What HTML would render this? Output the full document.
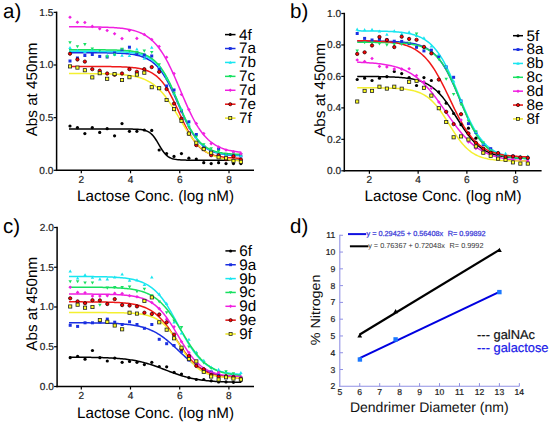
<!DOCTYPE html>
<html><head><meta charset="utf-8"><style>
html,body{margin:0;padding:0;background:#fff;}
svg{display:block;font-family:"Liberation Sans", sans-serif;text-rendering:geometricPrecision;}
</style></head><body>
<svg width="550" height="423" viewBox="0 0 550 423">
<rect width="550" height="423" fill="#fff"/>
<line x1="56.60" y1="11.60" x2="56.60" y2="171.05" stroke="#000" stroke-width="1.5" />
<line x1="55.85" y1="170.30" x2="254.00" y2="170.30" stroke="#000" stroke-width="1.5" />
<line x1="53.60" y1="170.30" x2="56.60" y2="170.30" stroke="#000" stroke-width="1.2" />
<text x="53.40" y="173.60" font-size="10.1" text-anchor="end" fill="#222" stroke="#222" stroke-width="0.2">0.0</text>
<line x1="53.60" y1="117.65" x2="56.60" y2="117.65" stroke="#000" stroke-width="1.2" />
<text x="53.40" y="120.95" font-size="10.1" text-anchor="end" fill="#222" stroke="#222" stroke-width="0.2">0.5</text>
<line x1="53.60" y1="65.00" x2="56.60" y2="65.00" stroke="#000" stroke-width="1.2" />
<text x="53.40" y="68.30" font-size="10.1" text-anchor="end" fill="#222" stroke="#222" stroke-width="0.2">1.0</text>
<line x1="53.60" y1="12.35" x2="56.60" y2="12.35" stroke="#000" stroke-width="1.2" />
<text x="53.40" y="15.65" font-size="10.1" text-anchor="end" fill="#222" stroke="#222" stroke-width="0.2">1.5</text>
<line x1="81.30" y1="170.30" x2="81.30" y2="173.30" stroke="#000" stroke-width="1.2" />
<text x="81.30" y="182.50" font-size="10.1" text-anchor="middle" fill="#222" stroke="#222" stroke-width="0.2">2</text>
<line x1="130.54" y1="170.30" x2="130.54" y2="173.30" stroke="#000" stroke-width="1.2" />
<text x="130.54" y="182.50" font-size="10.1" text-anchor="middle" fill="#222" stroke="#222" stroke-width="0.2">4</text>
<line x1="179.78" y1="170.30" x2="179.78" y2="173.30" stroke="#000" stroke-width="1.2" />
<text x="179.78" y="182.50" font-size="10.1" text-anchor="middle" fill="#222" stroke="#222" stroke-width="0.2">6</text>
<line x1="229.02" y1="170.30" x2="229.02" y2="173.30" stroke="#000" stroke-width="1.2" />
<text x="229.02" y="182.50" font-size="10.1" text-anchor="middle" fill="#222" stroke="#222" stroke-width="0.2">8</text>
<text x="3.00" y="17.50" font-size="20.5" text-anchor="start" fill="#000" >a)</text>
<text transform="translate(37,89.4) rotate(-90)" font-size="15.2" text-anchor="middle" fill="#000">Abs at 450nm</text>
<text x="155.50" y="200.50" font-size="15.2" text-anchor="middle" fill="#000" >Lactose Conc. (log nM)</text>
<polyline points="68.99,129.02 70.43,129.02 71.86,129.02 73.30,129.02 74.73,129.02 76.17,129.02 77.61,129.02 79.04,129.02 80.48,129.02 81.92,129.02 83.35,129.02 84.79,129.02 86.22,129.02 87.66,129.02 89.10,129.02 90.53,129.02 91.97,129.02 93.40,129.02 94.84,129.02 96.28,129.02 97.71,129.02 99.15,129.02 100.59,129.02 102.02,129.02 103.46,129.02 104.89,129.02 106.33,129.02 107.77,129.02 109.20,129.02 110.64,129.02 112.08,129.02 113.51,129.02 114.95,129.02 116.38,129.02 117.82,129.03 119.26,129.03 120.69,129.03 122.13,129.03 123.56,129.03 125.00,129.04 126.44,129.05 127.87,129.05 129.31,129.07 130.75,129.08 132.18,129.11 133.62,129.14 135.05,129.18 136.49,129.24 137.93,129.32 139.36,129.43 140.80,129.58 142.23,129.78 143.67,130.06 145.11,130.43 146.54,130.92 147.98,131.58 149.42,132.43 150.85,133.52 152.29,134.88 153.72,136.54 155.16,138.50 156.60,140.72 158.03,143.11 159.47,145.58 160.90,148.00 162.34,150.26 163.78,152.28 165.21,154.01 166.65,155.43 168.09,156.58 169.52,157.47 170.96,158.17 172.39,158.69 173.83,159.08 175.27,159.38 176.70,159.59 178.14,159.75 179.57,159.87 181.01,159.96 182.45,160.02 183.88,160.07 185.32,160.10 186.76,160.13 188.19,160.14 189.63,160.16 191.06,160.17 192.50,160.17 193.94,160.18 195.37,160.18 196.81,160.18 198.25,160.19 199.68,160.19 201.12,160.19 202.55,160.19 203.99,160.19 205.43,160.19 206.86,160.19 208.30,160.19 209.73,160.19 211.17,160.19 212.61,160.19 214.04,160.19 215.48,160.19 216.92,160.19 218.35,160.19 219.79,160.19 221.22,160.19 222.66,160.19 224.10,160.19 225.53,160.19 226.97,160.19 228.40,160.19 229.84,160.19 231.28,160.19 232.71,160.19 234.15,160.19 235.59,160.19 237.02,160.19 238.46,160.19 239.89,160.19 241.33,160.19" fill="none" stroke="#000" stroke-width="1.5"/>
<polyline points="68.99,52.69 70.43,52.69 71.86,52.69 73.30,52.69 74.73,52.69 76.17,52.69 77.61,52.69 79.04,52.70 80.48,52.70 81.92,52.70 83.35,52.70 84.79,52.71 86.22,52.71 87.66,52.71 89.10,52.72 90.53,52.72 91.97,52.73 93.40,52.73 94.84,52.74 96.28,52.75 97.71,52.76 99.15,52.77 100.59,52.78 102.02,52.80 103.46,52.81 104.89,52.83 106.33,52.85 107.77,52.88 109.20,52.90 110.64,52.93 112.08,52.97 113.51,53.01 114.95,53.05 116.38,53.10 117.82,53.16 119.26,53.22 120.69,53.30 122.13,53.38 123.56,53.47 125.00,53.58 126.44,53.70 127.87,53.84 129.31,53.99 130.75,54.17 132.18,54.37 133.62,54.59 135.05,54.85 136.49,55.14 137.93,55.46 139.36,55.83 140.80,56.25 142.23,56.71 143.67,57.24 145.11,57.83 146.54,58.49 147.98,59.23 149.42,60.05 150.85,60.98 152.29,62.01 153.72,63.15 155.16,64.41 156.60,65.80 158.03,67.34 159.47,69.01 160.90,70.85 162.34,72.84 163.78,74.99 165.21,77.30 166.65,79.78 168.09,82.40 169.52,85.18 170.96,88.09 172.39,91.11 173.83,94.24 175.27,97.45 176.70,100.71 178.14,104.01 179.57,107.30 181.01,110.57 182.45,113.80 183.88,116.94 185.32,120.00 186.76,122.93 188.19,125.74 189.63,128.40 191.06,130.91 192.50,133.26 193.94,135.45 195.37,137.48 196.81,139.34 198.25,141.06 199.68,142.62 201.12,144.05 202.55,145.34 203.99,146.51 205.43,147.56 206.86,148.51 208.30,149.36 209.73,150.12 211.17,150.79 212.61,151.40 214.04,151.94 215.48,152.42 216.92,152.84 218.35,153.22 219.79,153.56 221.22,153.85 222.66,154.11 224.10,154.35 225.53,154.55 226.97,154.73 228.40,154.89 229.84,155.03 231.28,155.16 232.71,155.27 234.15,155.37 235.59,155.45 237.02,155.53 238.46,155.59 239.89,155.65 241.33,155.70" fill="none" stroke="#1a2fe0" stroke-width="1.5"/>
<polyline points="68.99,51.32 70.43,51.32 71.86,51.32 73.30,51.32 74.73,51.32 76.17,51.32 77.61,51.32 79.04,51.32 80.48,51.33 81.92,51.33 83.35,51.33 84.79,51.33 86.22,51.34 87.66,51.34 89.10,51.34 90.53,51.35 91.97,51.35 93.40,51.36 94.84,51.36 96.28,51.37 97.71,51.38 99.15,51.39 100.59,51.40 102.02,51.41 103.46,51.43 104.89,51.44 106.33,51.46 107.77,51.48 109.20,51.50 110.64,51.53 112.08,51.56 113.51,51.60 114.95,51.64 116.38,51.68 117.82,51.73 119.26,51.79 120.69,51.86 122.13,51.93 123.56,52.02 125.00,52.11 126.44,52.23 127.87,52.35 129.31,52.49 130.75,52.66 132.18,52.84 133.62,53.05 135.05,53.29 136.49,53.56 137.93,53.86 139.36,54.21 140.80,54.60 142.23,55.04 143.67,55.54 145.11,56.10 146.54,56.73 147.98,57.44 149.42,58.24 150.85,59.13 152.29,60.12 153.72,61.23 155.16,62.46 156.60,63.83 158.03,65.34 159.47,67.00 160.90,68.81 162.34,70.79 163.78,72.94 165.21,75.26 166.65,77.75 168.09,80.40 169.52,83.21 170.96,86.16 172.39,89.25 173.83,92.45 175.27,95.73 176.70,99.08 178.14,102.46 179.57,105.86 181.01,109.23 182.45,112.56 183.88,115.81 185.32,118.96 186.76,121.99 188.19,124.88 189.63,127.63 191.06,130.21 192.50,132.62 193.94,134.87 195.37,136.95 196.81,138.85 198.25,140.60 199.68,142.19 201.12,143.64 202.55,144.95 203.99,146.13 205.43,147.19 206.86,148.14 208.30,148.99 209.73,149.74 211.17,150.42 212.61,151.02 214.04,151.55 215.48,152.03 216.92,152.44 218.35,152.81 219.79,153.14 221.22,153.43 222.66,153.69 224.10,153.91 225.53,154.11 226.97,154.28 228.40,154.44 229.84,154.57 231.28,154.69 232.71,154.80 234.15,154.89 235.59,154.97 237.02,155.04 238.46,155.11 239.89,155.16 241.33,155.21" fill="none" stroke="#19e6f0" stroke-width="1.5"/>
<polyline points="68.99,49.74 70.43,49.74 71.86,49.74 73.30,49.74 74.73,49.74 76.17,49.74 77.61,49.74 79.04,49.74 80.48,49.75 81.92,49.75 83.35,49.75 84.79,49.75 86.22,49.76 87.66,49.76 89.10,49.76 90.53,49.77 91.97,49.77 93.40,49.78 94.84,49.78 96.28,49.79 97.71,49.80 99.15,49.81 100.59,49.82 102.02,49.83 103.46,49.85 104.89,49.86 106.33,49.88 107.77,49.90 109.20,49.93 110.64,49.95 112.08,49.98 113.51,50.02 114.95,50.06 116.38,50.11 117.82,50.16 119.26,50.22 120.69,50.28 122.13,50.36 123.56,50.45 125.00,50.55 126.44,50.66 127.87,50.79 129.31,50.94 130.75,51.11 132.18,51.29 133.62,51.51 135.05,51.75 136.49,52.03 137.93,52.35 139.36,52.70 140.80,53.10 142.23,53.56 143.67,54.07 145.11,54.65 146.54,55.31 147.98,56.04 149.42,56.86 150.85,57.79 152.29,58.82 153.72,59.96 155.16,61.24 156.60,62.65 158.03,64.22 159.47,65.93 160.90,67.81 162.34,69.86 163.78,72.08 165.21,74.47 166.65,77.03 168.09,79.76 169.52,82.65 170.96,85.68 172.39,88.84 173.83,92.11 175.27,95.46 176.70,98.87 178.14,102.30 179.57,105.74 181.01,109.14 182.45,112.49 183.88,115.75 185.32,118.91 186.76,121.93 188.19,124.81 189.63,127.54 191.06,130.09 192.50,132.48 193.94,134.69 195.37,136.73 196.81,138.60 198.25,140.31 199.68,141.86 201.12,143.27 202.55,144.54 203.99,145.68 205.43,146.71 206.86,147.62 208.30,148.44 209.73,149.17 211.17,149.82 212.61,150.40 214.04,150.91 215.48,151.36 216.92,151.76 218.35,152.12 219.79,152.43 221.22,152.70 222.66,152.95 224.10,153.16 225.53,153.35 226.97,153.52 228.40,153.66 229.84,153.79 231.28,153.90 232.71,154.00 234.15,154.09 235.59,154.17 237.02,154.23 238.46,154.29 239.89,154.34 241.33,154.39" fill="none" stroke="#18e060" stroke-width="1.5"/>
<polyline points="68.99,26.81 70.43,26.81 71.86,26.81 73.30,26.82 74.73,26.82 76.17,26.83 77.61,26.83 79.04,26.84 80.48,26.85 81.92,26.86 83.35,26.86 84.79,26.87 86.22,26.89 87.66,26.90 89.10,26.91 90.53,26.93 91.97,26.94 93.40,26.96 94.84,26.98 96.28,27.01 97.71,27.03 99.15,27.06 100.59,27.10 102.02,27.13 103.46,27.17 104.89,27.22 106.33,27.27 107.77,27.32 109.20,27.38 110.64,27.45 112.08,27.53 113.51,27.62 114.95,27.71 116.38,27.82 117.82,27.93 119.26,28.06 120.69,28.21 122.13,28.37 123.56,28.55 125.00,28.74 126.44,28.96 127.87,29.21 129.31,29.48 130.75,29.78 132.18,30.11 133.62,30.48 135.05,30.89 136.49,31.34 137.93,31.84 139.36,32.39 140.80,33.00 142.23,33.66 143.67,34.40 145.11,35.21 146.54,36.10 147.98,37.07 149.42,38.14 150.85,39.30 152.29,40.57 153.72,41.96 155.16,43.45 156.60,45.08 158.03,46.83 159.47,48.72 160.90,50.74 162.34,52.90 163.78,55.21 165.21,57.66 166.65,60.24 168.09,62.96 169.52,65.81 170.96,68.78 172.39,71.86 173.83,75.03 175.27,78.29 176.70,81.62 178.14,84.99 179.57,88.39 181.01,91.81 182.45,95.21 183.88,98.58 185.32,101.91 186.76,105.17 188.19,108.35 189.63,111.43 191.06,114.41 192.50,117.26 193.94,119.99 195.37,122.58 196.81,125.03 198.25,127.34 199.68,129.51 201.12,131.54 202.55,133.43 203.99,135.19 205.43,136.82 206.86,138.32 208.30,139.71 209.73,140.98 211.17,142.15 212.61,143.22 214.04,144.20 215.48,145.09 216.92,145.90 218.35,146.64 219.79,147.31 221.22,147.92 222.66,148.47 224.10,148.97 225.53,149.43 226.97,149.84 228.40,150.21 229.84,150.54 231.28,150.84 232.71,151.11 234.15,151.36 235.59,151.58 237.02,151.78 238.46,151.96 239.89,152.12 241.33,152.27" fill="none" stroke="#f020e0" stroke-width="1.5"/>
<polyline points="68.99,66.48 70.43,66.48 71.86,66.48 73.30,66.48 74.73,66.48 76.17,66.48 77.61,66.48 79.04,66.48 80.48,66.48 81.92,66.48 83.35,66.48 84.79,66.49 86.22,66.49 87.66,66.49 89.10,66.49 90.53,66.49 91.97,66.50 93.40,66.50 94.84,66.51 96.28,66.51 97.71,66.51 99.15,66.52 100.59,66.53 102.02,66.54 103.46,66.54 104.89,66.55 106.33,66.57 107.77,66.58 109.20,66.60 110.64,66.61 112.08,66.63 113.51,66.66 114.95,66.68 116.38,66.71 117.82,66.75 119.26,66.79 120.69,66.83 122.13,66.88 123.56,66.94 125.00,67.01 126.44,67.09 127.87,67.18 129.31,67.28 130.75,67.40 132.18,67.53 133.62,67.69 135.05,67.86 136.49,68.06 137.93,68.29 139.36,68.55 140.80,68.84 142.23,69.18 143.67,69.56 145.11,69.99 146.54,70.48 147.98,71.04 149.42,71.67 150.85,72.38 152.29,73.17 153.72,74.07 155.16,75.08 156.60,76.20 158.03,77.45 159.47,78.84 160.90,80.38 162.34,82.06 163.78,83.91 165.21,85.92 166.65,88.09 168.09,90.43 169.52,92.92 170.96,95.56 172.39,98.34 173.83,101.23 175.27,104.23 176.70,107.30 178.14,110.41 179.57,113.55 181.01,116.67 182.45,119.76 183.88,122.78 185.32,125.71 186.76,128.53 188.19,131.22 189.63,133.76 191.06,136.15 192.50,138.37 193.94,140.44 195.37,142.33 196.81,144.07 198.25,145.66 199.68,147.09 201.12,148.38 202.55,149.55 203.99,150.59 205.43,151.52 206.86,152.35 208.30,153.09 209.73,153.75 211.17,154.33 212.61,154.84 214.04,155.29 215.48,155.69 216.92,156.04 218.35,156.34 219.79,156.61 221.22,156.85 222.66,157.06 224.10,157.24 225.53,157.40 226.97,157.54 228.40,157.66 229.84,157.77 231.28,157.86 232.71,157.94 234.15,158.01 235.59,158.08 237.02,158.13 238.46,158.18 239.89,158.22 241.33,158.26" fill="none" stroke="#f01818" stroke-width="1.5"/>
<polyline points="68.99,73.55 70.43,73.55 71.86,73.55 73.30,73.56 74.73,73.56 76.17,73.56 77.61,73.57 79.04,73.57 80.48,73.58 81.92,73.58 83.35,73.59 84.79,73.59 86.22,73.60 87.66,73.61 89.10,73.62 90.53,73.63 91.97,73.64 93.40,73.66 94.84,73.67 96.28,73.69 97.71,73.70 99.15,73.73 100.59,73.75 102.02,73.77 103.46,73.80 104.89,73.83 106.33,73.87 107.77,73.91 109.20,73.95 110.64,74.00 112.08,74.05 113.51,74.11 114.95,74.18 116.38,74.26 117.82,74.34 119.26,74.43 120.69,74.54 122.13,74.65 123.56,74.78 125.00,74.92 126.44,75.08 127.87,75.26 129.31,75.46 130.75,75.68 132.18,75.92 133.62,76.19 135.05,76.49 136.49,76.82 137.93,77.18 139.36,77.59 140.80,78.03 142.23,78.53 143.67,79.07 145.11,79.67 146.54,80.33 147.98,81.05 149.42,81.84 150.85,82.71 152.29,83.65 153.72,84.68 155.16,85.79 156.60,87.00 158.03,88.30 159.47,89.70 160.90,91.20 162.34,92.80 163.78,94.51 165.21,96.31 166.65,98.21 168.09,100.21 169.52,102.30 170.96,104.47 172.39,106.70 173.83,109.00 175.27,111.35 176.70,113.74 178.14,116.15 179.57,118.57 181.01,120.98 182.45,123.37 183.88,125.73 185.32,128.03 186.76,130.28 188.19,132.46 189.63,134.56 191.06,136.57 192.50,138.49 193.94,140.31 195.37,142.03 196.81,143.65 198.25,145.17 199.68,146.58 201.12,147.90 202.55,149.12 203.99,150.25 205.43,151.29 206.86,152.24 208.30,153.12 209.73,153.92 211.17,154.65 212.61,155.32 214.04,155.93 215.48,156.48 216.92,156.98 218.35,157.44 219.79,157.85 221.22,158.22 222.66,158.55 224.10,158.86 225.53,159.13 226.97,159.38 228.40,159.60 229.84,159.80 231.28,159.98 232.71,160.14 234.15,160.29 235.59,160.42 237.02,160.54 238.46,160.64 239.89,160.74 241.33,160.82" fill="none" stroke="#f4f030" stroke-width="1.5"/>
<circle cx="70.00" cy="126.00" r="1.60" fill="#000"/>
<circle cx="77.43" cy="127.60" r="1.60" fill="#000"/>
<circle cx="84.86" cy="133.60" r="1.60" fill="#000"/>
<circle cx="92.29" cy="127.60" r="1.60" fill="#000"/>
<circle cx="99.72" cy="132.40" r="1.60" fill="#000"/>
<circle cx="107.15" cy="128.70" r="1.60" fill="#000"/>
<circle cx="114.58" cy="135.80" r="1.60" fill="#000"/>
<circle cx="122.01" cy="123.60" r="1.60" fill="#000"/>
<circle cx="129.44" cy="131.30" r="1.60" fill="#000"/>
<circle cx="136.87" cy="131.30" r="1.60" fill="#000"/>
<circle cx="144.30" cy="130.00" r="1.60" fill="#000"/>
<circle cx="151.73" cy="130.40" r="1.60" fill="#000"/>
<circle cx="159.16" cy="150.00" r="1.60" fill="#000"/>
<circle cx="166.59" cy="153.60" r="1.60" fill="#000"/>
<circle cx="174.02" cy="156.40" r="1.60" fill="#000"/>
<circle cx="181.45" cy="153.60" r="1.60" fill="#000"/>
<circle cx="188.88" cy="158.20" r="1.60" fill="#000"/>
<circle cx="196.31" cy="159.10" r="1.60" fill="#000"/>
<circle cx="203.74" cy="162.70" r="1.60" fill="#000"/>
<circle cx="211.17" cy="163.60" r="1.60" fill="#000"/>
<circle cx="218.60" cy="162.70" r="1.60" fill="#000"/>
<circle cx="226.03" cy="163.60" r="1.60" fill="#000"/>
<circle cx="233.46" cy="163.60" r="1.60" fill="#000"/>
<circle cx="240.89" cy="163.60" r="1.60" fill="#000"/>
<rect x="68.50" y="59.50" width="3.00" height="3.00" fill="#1a2fe0"/>
<rect x="75.93" y="56.50" width="3.00" height="3.00" fill="#1a2fe0"/>
<rect x="83.36" y="54.00" width="3.00" height="3.00" fill="#1a2fe0"/>
<rect x="90.79" y="53.00" width="3.00" height="3.00" fill="#1a2fe0"/>
<rect x="98.22" y="54.90" width="3.00" height="3.00" fill="#1a2fe0"/>
<rect x="105.65" y="55.50" width="3.00" height="3.00" fill="#1a2fe0"/>
<rect x="113.08" y="51.50" width="3.00" height="3.00" fill="#1a2fe0"/>
<rect x="120.51" y="48.20" width="3.00" height="3.00" fill="#1a2fe0"/>
<rect x="127.94" y="45.70" width="3.00" height="3.00" fill="#1a2fe0"/>
<rect x="135.37" y="52.50" width="3.00" height="3.00" fill="#1a2fe0"/>
<rect x="142.80" y="53.50" width="3.00" height="3.00" fill="#1a2fe0"/>
<rect x="150.23" y="54.50" width="3.00" height="3.00" fill="#1a2fe0"/>
<rect x="157.66" y="66.97" width="3.00" height="3.00" fill="#1a2fe0"/>
<rect x="165.09" y="84.50" width="3.00" height="3.00" fill="#1a2fe0"/>
<rect x="172.52" y="88.50" width="3.00" height="3.00" fill="#1a2fe0"/>
<rect x="179.95" y="109.40" width="3.00" height="3.00" fill="#1a2fe0"/>
<rect x="187.38" y="120.30" width="3.00" height="3.00" fill="#1a2fe0"/>
<rect x="194.81" y="133.00" width="3.00" height="3.00" fill="#1a2fe0"/>
<rect x="202.24" y="145.03" width="3.00" height="3.00" fill="#1a2fe0"/>
<rect x="209.67" y="150.82" width="3.00" height="3.00" fill="#1a2fe0"/>
<rect x="217.10" y="147.60" width="3.00" height="3.00" fill="#1a2fe0"/>
<rect x="224.53" y="152.99" width="3.00" height="3.00" fill="#1a2fe0"/>
<rect x="231.96" y="153.85" width="3.00" height="3.00" fill="#1a2fe0"/>
<rect x="239.39" y="154.50" width="3.00" height="3.00" fill="#1a2fe0"/>
<path d="M70.00,46.05L71.75,49.11L68.25,49.11Z" fill="#19e6f0"/>
<path d="M77.43,48.65L79.18,51.71L75.68,51.71Z" fill="#19e6f0"/>
<path d="M84.86,50.05L86.61,53.11L83.11,53.11Z" fill="#19e6f0"/>
<path d="M92.29,47.75L94.04,50.81L90.54,50.81Z" fill="#19e6f0"/>
<path d="M99.72,48.75L101.47,51.81L97.97,51.81Z" fill="#19e6f0"/>
<path d="M107.15,53.75L108.90,56.81L105.40,56.81Z" fill="#19e6f0"/>
<path d="M114.58,52.95L116.33,56.01L112.83,56.01Z" fill="#19e6f0"/>
<path d="M122.01,53.75L123.76,56.81L120.26,56.81Z" fill="#19e6f0"/>
<path d="M129.44,54.05L131.19,57.11L127.69,57.11Z" fill="#19e6f0"/>
<path d="M136.87,47.55L138.62,50.61L135.12,50.61Z" fill="#19e6f0"/>
<path d="M144.30,56.75L146.05,59.81L142.55,59.81Z" fill="#19e6f0"/>
<path d="M151.73,45.65L153.48,48.71L149.98,48.71Z" fill="#19e6f0"/>
<path d="M159.16,64.79L160.91,67.85L157.41,67.85Z" fill="#19e6f0"/>
<path d="M166.59,76.46L168.34,79.52L164.84,79.52Z" fill="#19e6f0"/>
<path d="M174.02,91.72L175.77,94.79L172.27,94.79Z" fill="#19e6f0"/>
<path d="M181.45,107.22L183.20,110.28L179.70,110.28Z" fill="#19e6f0"/>
<path d="M188.88,122.71L190.63,125.77L187.13,125.77Z" fill="#19e6f0"/>
<path d="M196.31,136.01L198.06,139.07L194.56,139.07Z" fill="#19e6f0"/>
<path d="M203.74,143.37L205.49,146.43L201.99,146.43Z" fill="#19e6f0"/>
<path d="M211.17,149.79L212.92,152.85L209.42,152.85Z" fill="#19e6f0"/>
<path d="M218.60,151.81L220.35,154.87L216.85,154.87Z" fill="#19e6f0"/>
<path d="M226.03,152.79L227.78,155.85L224.28,155.85Z" fill="#19e6f0"/>
<path d="M233.46,153.31L235.21,156.37L231.71,156.37Z" fill="#19e6f0"/>
<path d="M240.89,154.03L242.64,157.09L239.14,157.09Z" fill="#19e6f0"/>
<path d="M70.00,44.25L71.75,41.19L68.25,41.19Z" fill="#18e060"/>
<path d="M77.43,48.25L79.18,45.19L75.68,45.19Z" fill="#18e060"/>
<path d="M84.86,46.15L86.61,43.09L83.11,43.09Z" fill="#18e060"/>
<path d="M92.29,50.45L94.04,47.39L90.54,47.39Z" fill="#18e060"/>
<path d="M99.72,52.15L101.47,49.09L97.97,49.09Z" fill="#18e060"/>
<path d="M107.15,58.65L108.90,55.59L105.40,55.59Z" fill="#18e060"/>
<path d="M114.58,56.45L116.33,53.39L112.83,53.39Z" fill="#18e060"/>
<path d="M122.01,50.75L123.76,47.69L120.26,47.69Z" fill="#18e060"/>
<path d="M129.44,52.75L131.19,49.69L127.69,49.69Z" fill="#18e060"/>
<path d="M136.87,53.95L138.62,50.89L135.12,50.89Z" fill="#18e060"/>
<path d="M144.30,52.65L146.05,49.59L142.55,49.59Z" fill="#18e060"/>
<path d="M151.73,53.95L153.48,50.89L149.98,50.89Z" fill="#18e060"/>
<path d="M159.16,66.43L160.91,63.37L157.41,63.37Z" fill="#18e060"/>
<path d="M166.59,80.85L168.34,77.79L164.84,77.79Z" fill="#18e060"/>
<path d="M174.02,94.96L175.77,91.90L172.27,91.90Z" fill="#18e060"/>
<path d="M181.45,112.59L183.20,109.52L179.70,109.52Z" fill="#18e060"/>
<path d="M188.88,129.15L190.63,126.08L187.13,126.08Z" fill="#18e060"/>
<path d="M196.31,138.59L198.06,135.52L194.56,135.52Z" fill="#18e060"/>
<path d="M203.74,146.27L205.49,143.21L201.99,143.21Z" fill="#18e060"/>
<path d="M211.17,150.30L212.92,147.24L209.42,147.24Z" fill="#18e060"/>
<path d="M218.60,152.93L220.35,149.87L216.85,149.87Z" fill="#18e060"/>
<path d="M226.03,156.00L227.78,152.94L224.28,152.94Z" fill="#18e060"/>
<path d="M233.46,154.47L235.21,151.41L231.71,151.41Z" fill="#18e060"/>
<path d="M240.89,156.24L242.64,153.18L239.14,153.18Z" fill="#18e060"/>
<path d="M70.00,15.50L71.80,17.30L70.00,19.10L68.20,17.30Z" fill="#f020e0"/>
<path d="M77.43,20.40L79.23,22.20L77.43,24.00L75.63,22.20Z" fill="#f020e0"/>
<path d="M84.86,20.70L86.66,22.50L84.86,24.30L83.06,22.50Z" fill="#f020e0"/>
<path d="M92.29,24.60L94.09,26.40L92.29,28.20L90.49,26.40Z" fill="#f020e0"/>
<path d="M99.72,27.00L101.52,28.80L99.72,30.60L97.92,28.80Z" fill="#f020e0"/>
<path d="M107.15,28.70L108.95,30.50L107.15,32.30L105.35,30.50Z" fill="#f020e0"/>
<path d="M114.58,32.00L116.38,33.80L114.58,35.60L112.78,33.80Z" fill="#f020e0"/>
<path d="M122.01,36.80L123.81,38.60L122.01,40.40L120.21,38.60Z" fill="#f020e0"/>
<path d="M129.44,28.70L131.24,30.50L129.44,32.30L127.64,30.50Z" fill="#f020e0"/>
<path d="M136.87,36.60L138.67,38.40L136.87,40.20L135.07,38.40Z" fill="#f020e0"/>
<path d="M144.30,32.70L146.10,34.50L144.30,36.30L142.50,34.50Z" fill="#f020e0"/>
<path d="M151.73,37.70L153.53,39.50L151.73,41.30L149.93,39.50Z" fill="#f020e0"/>
<path d="M159.16,44.70L160.96,46.50L159.16,48.30L157.36,46.50Z" fill="#f020e0"/>
<path d="M166.59,55.50L168.39,57.30L166.59,59.10L164.79,57.30Z" fill="#f020e0"/>
<path d="M174.02,71.80L175.82,73.60L174.02,75.40L172.22,73.60Z" fill="#f020e0"/>
<path d="M181.45,92.70L183.25,94.50L181.45,96.30L179.65,94.50Z" fill="#f020e0"/>
<path d="M188.88,107.80L190.68,109.60L188.88,111.40L187.08,109.60Z" fill="#f020e0"/>
<path d="M196.31,121.80L198.11,123.60L196.31,125.40L194.51,123.60Z" fill="#f020e0"/>
<path d="M203.74,131.80L205.54,133.60L203.74,135.40L201.94,133.60Z" fill="#f020e0"/>
<path d="M211.17,141.80L212.97,143.60L211.17,145.40L209.37,143.60Z" fill="#f020e0"/>
<path d="M218.60,145.20L220.40,147.00L218.60,148.80L216.80,147.00Z" fill="#f020e0"/>
<path d="M226.03,148.20L227.83,150.00L226.03,151.80L224.23,150.00Z" fill="#f020e0"/>
<path d="M233.46,150.00L235.26,151.80L233.46,153.60L231.66,151.80Z" fill="#f020e0"/>
<path d="M240.89,151.80L242.69,153.60L240.89,155.40L239.09,153.60Z" fill="#f020e0"/>
<circle cx="70.00" cy="53.70" r="1.65" fill="#f00" stroke="#300" stroke-width="0.80"/>
<circle cx="77.43" cy="59.50" r="1.65" fill="#f00" stroke="#300" stroke-width="0.80"/>
<circle cx="84.86" cy="61.60" r="1.65" fill="#f00" stroke="#300" stroke-width="0.80"/>
<circle cx="92.29" cy="69.20" r="1.65" fill="#f00" stroke="#300" stroke-width="0.80"/>
<circle cx="99.72" cy="70.70" r="1.65" fill="#f00" stroke="#300" stroke-width="0.80"/>
<circle cx="107.15" cy="73.50" r="1.65" fill="#f00" stroke="#300" stroke-width="0.80"/>
<circle cx="114.58" cy="74.80" r="1.65" fill="#f00" stroke="#300" stroke-width="0.80"/>
<circle cx="122.01" cy="73.50" r="1.65" fill="#f00" stroke="#300" stroke-width="0.80"/>
<circle cx="129.44" cy="69.20" r="1.65" fill="#f00" stroke="#300" stroke-width="0.80"/>
<circle cx="136.87" cy="71.80" r="1.65" fill="#f00" stroke="#300" stroke-width="0.80"/>
<circle cx="144.30" cy="69.20" r="1.65" fill="#f00" stroke="#300" stroke-width="0.80"/>
<circle cx="151.73" cy="67.10" r="1.65" fill="#f00" stroke="#300" stroke-width="0.80"/>
<circle cx="159.16" cy="71.80" r="1.65" fill="#f00" stroke="#300" stroke-width="0.80"/>
<circle cx="166.59" cy="89.10" r="1.65" fill="#f00" stroke="#300" stroke-width="0.80"/>
<circle cx="174.02" cy="103.60" r="1.65" fill="#f00" stroke="#300" stroke-width="0.80"/>
<circle cx="181.45" cy="118.70" r="1.65" fill="#f00" stroke="#300" stroke-width="0.80"/>
<circle cx="188.88" cy="133.60" r="1.65" fill="#f00" stroke="#300" stroke-width="0.80"/>
<circle cx="196.31" cy="145.16" r="1.65" fill="#f00" stroke="#300" stroke-width="0.80"/>
<circle cx="203.74" cy="148.66" r="1.65" fill="#f00" stroke="#300" stroke-width="0.80"/>
<circle cx="211.17" cy="155.18" r="1.65" fill="#f00" stroke="#300" stroke-width="0.80"/>
<circle cx="218.60" cy="155.16" r="1.65" fill="#f00" stroke="#300" stroke-width="0.80"/>
<circle cx="226.03" cy="159.20" r="1.65" fill="#f00" stroke="#300" stroke-width="0.80"/>
<circle cx="233.46" cy="156.24" r="1.65" fill="#f00" stroke="#300" stroke-width="0.80"/>
<circle cx="240.89" cy="159.61" r="1.65" fill="#f00" stroke="#300" stroke-width="0.80"/>
<rect x="68.40" y="64.80" width="3.20" height="3.20" fill="#ff2" stroke="#222" stroke-width="0.80"/>
<rect x="75.83" y="66.00" width="3.20" height="3.20" fill="#ff2" stroke="#222" stroke-width="0.80"/>
<rect x="83.26" y="68.60" width="3.20" height="3.20" fill="#ff2" stroke="#222" stroke-width="0.80"/>
<rect x="90.69" y="75.80" width="3.20" height="3.20" fill="#ff2" stroke="#222" stroke-width="0.80"/>
<rect x="98.12" y="71.60" width="3.20" height="3.20" fill="#ff2" stroke="#222" stroke-width="0.80"/>
<rect x="105.55" y="77.20" width="3.20" height="3.20" fill="#ff2" stroke="#222" stroke-width="0.80"/>
<rect x="112.98" y="72.40" width="3.20" height="3.20" fill="#ff2" stroke="#222" stroke-width="0.80"/>
<rect x="120.41" y="78.40" width="3.20" height="3.20" fill="#ff2" stroke="#222" stroke-width="0.80"/>
<rect x="127.84" y="75.60" width="3.20" height="3.20" fill="#ff2" stroke="#222" stroke-width="0.80"/>
<rect x="135.27" y="73.00" width="3.20" height="3.20" fill="#ff2" stroke="#222" stroke-width="0.80"/>
<rect x="142.70" y="71.10" width="3.20" height="3.20" fill="#ff2" stroke="#222" stroke-width="0.80"/>
<rect x="150.13" y="85.60" width="3.20" height="3.20" fill="#ff2" stroke="#222" stroke-width="0.80"/>
<rect x="157.56" y="86.60" width="3.20" height="3.20" fill="#ff2" stroke="#222" stroke-width="0.80"/>
<rect x="164.99" y="98.40" width="3.20" height="3.20" fill="#ff2" stroke="#222" stroke-width="0.80"/>
<rect x="172.42" y="107.50" width="3.20" height="3.20" fill="#ff2" stroke="#222" stroke-width="0.80"/>
<rect x="179.85" y="119.30" width="3.20" height="3.20" fill="#ff2" stroke="#222" stroke-width="0.80"/>
<rect x="187.28" y="132.00" width="3.20" height="3.20" fill="#ff2" stroke="#222" stroke-width="0.80"/>
<rect x="194.71" y="141.10" width="3.20" height="3.20" fill="#ff2" stroke="#222" stroke-width="0.80"/>
<rect x="202.14" y="147.50" width="3.20" height="3.20" fill="#ff2" stroke="#222" stroke-width="0.80"/>
<rect x="209.57" y="151.10" width="3.20" height="3.20" fill="#ff2" stroke="#222" stroke-width="0.80"/>
<rect x="217.00" y="155.70" width="3.20" height="3.20" fill="#ff2" stroke="#222" stroke-width="0.80"/>
<rect x="224.43" y="156.60" width="3.20" height="3.20" fill="#ff2" stroke="#222" stroke-width="0.80"/>
<rect x="231.86" y="159.30" width="3.20" height="3.20" fill="#ff2" stroke="#222" stroke-width="0.80"/>
<rect x="239.29" y="160.20" width="3.20" height="3.20" fill="#ff2" stroke="#222" stroke-width="0.80"/>
<line x1="225.00" y1="34.60" x2="235.50" y2="34.60" stroke="#000" stroke-width="1.5" />
<circle cx="230.25" cy="34.60" r="1.52" fill="#000"/>
<text x="239.00" y="39.50" font-size="15.3" text-anchor="start" fill="#000" >4f</text>
<line x1="225.00" y1="48.52" x2="235.50" y2="48.52" stroke="#1a2fe0" stroke-width="1.5" />
<rect x="228.82" y="47.10" width="2.85" height="2.85" fill="#1a2fe0"/>
<text x="239.00" y="53.42" font-size="15.3" text-anchor="start" fill="#000" >7a</text>
<line x1="225.00" y1="62.44" x2="235.50" y2="62.44" stroke="#19e6f0" stroke-width="1.5" />
<path d="M230.25,60.78L231.91,63.69L228.59,63.69Z" fill="#19e6f0"/>
<text x="239.00" y="67.34" font-size="15.3" text-anchor="start" fill="#000" >7b</text>
<line x1="225.00" y1="76.36" x2="235.50" y2="76.36" stroke="#18e060" stroke-width="1.5" />
<path d="M230.25,78.02L231.91,75.11L228.59,75.11Z" fill="#18e060"/>
<text x="239.00" y="81.26" font-size="15.3" text-anchor="start" fill="#000" >7c</text>
<line x1="225.00" y1="90.28" x2="235.50" y2="90.28" stroke="#f020e0" stroke-width="1.5" />
<path d="M230.25,88.57L231.96,90.28L230.25,91.99L228.54,90.28Z" fill="#f020e0"/>
<text x="239.00" y="95.18" font-size="15.3" text-anchor="start" fill="#000" >7d</text>
<line x1="225.00" y1="104.20" x2="235.50" y2="104.20" stroke="#e01010" stroke-width="1.5" />
<circle cx="230.25" cy="104.20" r="1.57" fill="#f00" stroke="#300" stroke-width="0.76"/>
<text x="239.00" y="109.10" font-size="15.3" text-anchor="start" fill="#000" >7e</text>
<line x1="225.00" y1="118.12" x2="235.50" y2="118.12" stroke="#e8e020" stroke-width="1.5" />
<rect x="228.73" y="116.60" width="3.04" height="3.04" fill="#ff2" stroke="#222" stroke-width="0.76"/>
<text x="239.00" y="123.02" font-size="15.3" text-anchor="start" fill="#000" >7f</text>
<line x1="344.30" y1="12.75" x2="344.30" y2="171.55" stroke="#000" stroke-width="1.5" />
<line x1="343.55" y1="170.80" x2="541.60" y2="170.80" stroke="#000" stroke-width="1.5" />
<line x1="341.30" y1="170.80" x2="344.30" y2="170.80" stroke="#000" stroke-width="1.2" />
<text x="341.10" y="174.10" font-size="10.1" text-anchor="end" fill="#222" stroke="#222" stroke-width="0.2">0.0</text>
<line x1="341.30" y1="139.34" x2="344.30" y2="139.34" stroke="#000" stroke-width="1.2" />
<text x="341.10" y="142.64" font-size="10.1" text-anchor="end" fill="#222" stroke="#222" stroke-width="0.2">0.2</text>
<line x1="341.30" y1="107.88" x2="344.30" y2="107.88" stroke="#000" stroke-width="1.2" />
<text x="341.10" y="111.18" font-size="10.1" text-anchor="end" fill="#222" stroke="#222" stroke-width="0.2">0.4</text>
<line x1="341.30" y1="76.42" x2="344.30" y2="76.42" stroke="#000" stroke-width="1.2" />
<text x="341.10" y="79.72" font-size="10.1" text-anchor="end" fill="#222" stroke="#222" stroke-width="0.2">0.6</text>
<line x1="341.30" y1="44.96" x2="344.30" y2="44.96" stroke="#000" stroke-width="1.2" />
<text x="341.10" y="48.26" font-size="10.1" text-anchor="end" fill="#222" stroke="#222" stroke-width="0.2">0.8</text>
<line x1="341.30" y1="13.50" x2="344.30" y2="13.50" stroke="#000" stroke-width="1.2" />
<text x="341.10" y="16.80" font-size="10.1" text-anchor="end" fill="#222" stroke="#222" stroke-width="0.2">1.0</text>
<line x1="369.40" y1="170.80" x2="369.40" y2="173.80" stroke="#000" stroke-width="1.2" />
<text x="369.40" y="183.00" font-size="10.1" text-anchor="middle" fill="#222" stroke="#222" stroke-width="0.2">2</text>
<line x1="418.14" y1="170.80" x2="418.14" y2="173.80" stroke="#000" stroke-width="1.2" />
<text x="418.14" y="183.00" font-size="10.1" text-anchor="middle" fill="#222" stroke="#222" stroke-width="0.2">4</text>
<line x1="466.88" y1="170.80" x2="466.88" y2="173.80" stroke="#000" stroke-width="1.2" />
<text x="466.88" y="183.00" font-size="10.1" text-anchor="middle" fill="#222" stroke="#222" stroke-width="0.2">6</text>
<line x1="515.62" y1="170.80" x2="515.62" y2="173.80" stroke="#000" stroke-width="1.2" />
<text x="515.62" y="183.00" font-size="10.1" text-anchor="middle" fill="#222" stroke="#222" stroke-width="0.2">8</text>
<text x="290.00" y="17.50" font-size="20.5" text-anchor="start" fill="#000" >b)</text>
<text transform="translate(324.9,89.9) rotate(-90)" font-size="15.2" text-anchor="middle" fill="#000">Abs at 450nm</text>
<text x="443.00" y="200.50" font-size="15.2" text-anchor="middle" fill="#000" >Lactose Conc. (log nM)</text>
<polyline points="357.21,76.46 358.64,76.46 360.06,76.47 361.48,76.47 362.90,76.48 364.32,76.48 365.74,76.49 367.17,76.50 368.59,76.51 370.01,76.52 371.43,76.53 372.85,76.54 374.27,76.56 375.70,76.58 377.12,76.59 378.54,76.61 379.96,76.64 381.38,76.66 382.80,76.69 384.23,76.72 385.65,76.76 387.07,76.79 388.49,76.84 389.91,76.89 391.33,76.94 392.75,77.00 394.18,77.07 395.60,77.14 397.02,77.23 398.44,77.32 399.86,77.42 401.28,77.54 402.71,77.67 404.13,77.81 405.55,77.97 406.97,78.14 408.39,78.34 409.81,78.56 411.24,78.80 412.66,79.07 414.08,79.36 415.50,79.69 416.92,80.06 418.34,80.46 419.76,80.90 421.19,81.39 422.61,81.93 424.03,82.53 425.45,83.18 426.87,83.90 428.29,84.68 429.72,85.54 431.14,86.47 432.56,87.48 433.98,88.58 435.40,89.76 436.82,91.04 438.25,92.41 439.67,93.88 441.09,95.44 442.51,97.10 443.93,98.85 445.35,100.69 446.77,102.62 448.20,104.62 449.62,106.70 451.04,108.83 452.46,111.02 453.88,113.25 455.30,115.50 456.73,117.76 458.15,120.02 459.57,122.27 460.99,124.49 462.41,126.67 463.83,128.79 465.26,130.86 466.68,132.85 468.10,134.76 469.52,136.58 470.94,138.32 472.36,139.96 473.78,141.50 475.21,142.95 476.63,144.31 478.05,145.57 479.47,146.74 480.89,147.82 482.31,148.82 483.74,149.73 485.16,150.58 486.58,151.35 488.00,152.05 489.42,152.69 490.84,153.28 492.27,153.81 493.69,154.29 495.11,154.73 496.53,155.12 497.95,155.48 499.37,155.80 500.79,156.09 502.22,156.36 503.64,156.59 505.06,156.81 506.48,157.00 507.90,157.17 509.32,157.33 510.75,157.47 512.17,157.59 513.59,157.71 515.01,157.81 516.43,157.90 517.85,157.98 519.28,158.05 520.70,158.12 522.12,158.18 523.54,158.23 524.96,158.28 526.38,158.32 527.80,158.36" fill="none" stroke="#000" stroke-width="1.5"/>
<polyline points="357.21,41.06 358.64,41.06 360.06,41.06 361.48,41.07 362.90,41.07 364.32,41.08 365.74,41.08 367.17,41.09 368.59,41.10 370.01,41.11 371.43,41.12 372.85,41.13 374.27,41.14 375.70,41.15 377.12,41.17 378.54,41.18 379.96,41.20 381.38,41.22 382.80,41.25 384.23,41.28 385.65,41.31 387.07,41.34 388.49,41.38 389.91,41.42 391.33,41.47 392.75,41.52 394.18,41.58 395.60,41.65 397.02,41.73 398.44,41.81 399.86,41.91 401.28,42.01 402.71,42.13 404.13,42.27 405.55,42.42 406.97,42.59 408.39,42.77 409.81,42.98 411.24,43.22 412.66,43.48 414.08,43.78 415.50,44.10 416.92,44.47 418.34,44.88 419.76,45.33 421.19,45.84 422.61,46.40 424.03,47.02 425.45,47.71 426.87,48.48 428.29,49.33 429.72,50.27 431.14,51.30 432.56,52.44 433.98,53.68 435.40,55.05 436.82,56.54 438.25,58.16 439.67,59.93 441.09,61.83 442.51,63.89 443.93,66.09 445.35,68.45 446.77,70.95 448.20,73.60 449.62,76.40 451.04,79.32 452.46,82.37 453.88,85.52 455.30,88.77 456.73,92.08 458.15,95.45 459.57,98.85 460.99,102.25 462.41,105.64 463.83,109.00 465.26,112.29 466.68,115.51 468.10,118.63 469.52,121.64 470.94,124.52 472.36,127.27 473.78,129.88 475.21,132.34 476.63,134.65 478.05,136.81 479.47,138.81 480.89,140.67 482.31,142.39 483.74,143.97 485.16,145.42 486.58,146.75 488.00,147.96 489.42,149.07 490.84,150.07 492.27,150.98 493.69,151.80 495.11,152.54 496.53,153.21 497.95,153.81 499.37,154.36 500.79,154.85 502.22,155.29 503.64,155.68 505.06,156.03 506.48,156.35 507.90,156.63 509.32,156.89 510.75,157.11 512.17,157.32 513.59,157.50 515.01,157.66 516.43,157.81 517.85,157.94 519.28,158.05 520.70,158.15 522.12,158.25 523.54,158.33 524.96,158.40 526.38,158.47 527.80,158.52" fill="none" stroke="#1a2fe0" stroke-width="1.5"/>
<polyline points="357.21,30.86 358.64,30.86 360.06,30.87 361.48,30.88 362.90,30.88 364.32,30.89 365.74,30.90 367.17,30.92 368.59,30.93 370.01,30.94 371.43,30.96 372.85,30.98 374.27,31.00 375.70,31.02 377.12,31.05 378.54,31.07 379.96,31.11 381.38,31.14 382.80,31.18 384.23,31.22 385.65,31.27 387.07,31.32 388.49,31.38 389.91,31.45 391.33,31.52 392.75,31.61 394.18,31.70 395.60,31.80 397.02,31.92 398.44,32.04 399.86,32.18 401.28,32.34 402.71,32.52 404.13,32.71 405.55,32.93 406.97,33.17 408.39,33.44 409.81,33.73 411.24,34.06 412.66,34.43 414.08,34.83 415.50,35.28 416.92,35.78 418.34,36.33 419.76,36.94 421.19,37.61 422.61,38.34 424.03,39.16 425.45,40.05 426.87,41.03 428.29,42.11 429.72,43.29 431.14,44.57 432.56,45.97 433.98,47.49 435.40,49.14 436.82,50.93 438.25,52.85 439.67,54.91 441.09,57.12 442.51,59.48 443.93,61.98 445.35,64.63 446.77,67.41 448.20,70.33 449.62,73.37 451.04,76.53 452.46,79.79 453.88,83.13 455.30,86.53 456.73,89.99 458.15,93.47 459.57,96.96 460.99,100.44 462.41,103.88 463.83,107.27 465.26,110.59 466.68,113.82 468.10,116.94 469.52,119.96 470.94,122.84 472.36,125.59 473.78,128.20 475.21,130.66 476.63,132.98 478.05,135.15 479.47,137.17 480.89,139.06 482.31,140.80 483.74,142.42 485.16,143.91 486.58,145.27 488.00,146.53 489.42,147.68 490.84,148.73 492.27,149.69 493.69,150.56 495.11,151.35 496.53,152.07 497.95,152.72 499.37,153.32 500.79,153.85 502.22,154.33 503.64,154.77 505.06,155.16 506.48,155.52 507.90,155.84 509.32,156.13 510.75,156.39 512.17,156.62 513.59,156.83 515.01,157.02 516.43,157.19 517.85,157.35 519.28,157.48 520.70,157.61 522.12,157.72 523.54,157.82 524.96,157.91 526.38,157.99 527.80,158.06" fill="none" stroke="#19e6f0" stroke-width="1.5"/>
<polyline points="357.21,42.31 358.64,42.31 360.06,42.31 361.48,42.32 362.90,42.32 364.32,42.32 365.74,42.33 367.17,42.33 368.59,42.34 370.01,42.35 371.43,42.35 372.85,42.36 374.27,42.37 375.70,42.38 377.12,42.40 378.54,42.41 379.96,42.43 381.38,42.44 382.80,42.46 384.23,42.49 385.65,42.51 387.07,42.54 388.49,42.57 389.91,42.61 391.33,42.65 392.75,42.69 394.18,42.75 395.60,42.80 397.02,42.87 398.44,42.94 399.86,43.02 401.28,43.12 402.71,43.22 404.13,43.34 405.55,43.47 406.97,43.61 408.39,43.78 409.81,43.96 411.24,44.17 412.66,44.41 414.08,44.67 415.50,44.96 416.92,45.29 418.34,45.66 419.76,46.07 421.19,46.53 422.61,47.04 424.03,47.62 425.45,48.25 426.87,48.96 428.29,49.75 429.72,50.62 431.14,51.59 432.56,52.66 433.98,53.84 435.40,55.14 436.82,56.56 438.25,58.11 439.67,59.81 441.09,61.65 442.51,63.65 443.93,65.80 445.35,68.11 446.77,70.57 448.20,73.19 449.62,75.97 451.04,78.88 452.46,81.93 453.88,85.09 455.30,88.36 456.73,91.71 458.15,95.12 459.57,98.57 460.99,102.03 462.41,105.48 463.83,108.90 465.26,112.27 466.68,115.55 468.10,118.74 469.52,121.81 470.94,124.75 472.36,127.55 473.78,130.20 475.21,132.70 476.63,135.04 478.05,137.22 479.47,139.25 480.89,141.12 482.31,142.85 483.74,144.43 485.16,145.88 486.58,147.20 488.00,148.40 489.42,149.49 490.84,150.48 492.27,151.37 493.69,152.17 495.11,152.90 496.53,153.55 497.95,154.14 499.37,154.66 500.79,155.13 502.22,155.55 503.64,155.93 505.06,156.26 506.48,156.56 507.90,156.83 509.32,157.07 510.75,157.28 512.17,157.47 513.59,157.64 515.01,157.79 516.43,157.93 517.85,158.05 519.28,158.15 520.70,158.25 522.12,158.33 523.54,158.41 524.96,158.47 526.38,158.53 527.80,158.58" fill="none" stroke="#18e060" stroke-width="1.5"/>
<polyline points="357.21,62.24 358.64,62.29 360.06,62.34 361.48,62.40 362.90,62.47 364.32,62.54 365.74,62.62 367.17,62.70 368.59,62.79 370.01,62.89 371.43,62.99 372.85,63.11 374.27,63.23 375.70,63.36 377.12,63.51 378.54,63.67 379.96,63.84 381.38,64.02 382.80,64.22 384.23,64.43 385.65,64.67 387.07,64.92 388.49,65.19 389.91,65.48 391.33,65.80 392.75,66.14 394.18,66.50 395.60,66.90 397.02,67.32 398.44,67.78 399.86,68.27 401.28,68.80 402.71,69.36 404.13,69.97 405.55,70.62 406.97,71.31 408.39,72.05 409.81,72.84 411.24,73.69 412.66,74.58 414.08,75.54 415.50,76.55 416.92,77.62 418.34,78.76 419.76,79.95 421.19,81.21 422.61,82.54 424.03,83.93 425.45,85.38 426.87,86.90 428.29,88.48 429.72,90.13 431.14,91.83 432.56,93.59 433.98,95.40 435.40,97.26 436.82,99.17 438.25,101.11 439.67,103.09 441.09,105.10 442.51,107.13 443.93,109.18 445.35,111.23 446.77,113.28 448.20,115.33 449.62,117.37 451.04,119.39 452.46,121.39 453.88,123.35 455.30,125.27 456.73,127.16 458.15,128.99 459.57,130.78 460.99,132.51 462.41,134.18 463.83,135.80 465.26,137.35 466.68,138.83 468.10,140.25 469.52,141.61 470.94,142.90 472.36,144.13 473.78,145.30 475.21,146.40 476.63,147.44 478.05,148.42 479.47,149.35 480.89,150.22 482.31,151.03 483.74,151.80 485.16,152.52 486.58,153.19 488.00,153.81 489.42,154.40 490.84,154.94 492.27,155.45 493.69,155.93 495.11,156.37 496.53,156.78 497.95,157.16 499.37,157.51 500.79,157.84 502.22,158.14 503.64,158.42 505.06,158.68 506.48,158.92 507.90,159.14 509.32,159.35 510.75,159.54 512.17,159.72 513.59,159.88 515.01,160.03 516.43,160.17 517.85,160.30 519.28,160.42 520.70,160.53 522.12,160.63 523.54,160.73 524.96,160.81 526.38,160.89 527.80,160.97" fill="none" stroke="#f020e0" stroke-width="1.5"/>
<polyline points="357.21,40.70 358.64,40.72 360.06,40.74 361.48,40.76 362.90,40.78 364.32,40.80 365.74,40.83 367.17,40.86 368.59,40.89 370.01,40.92 371.43,40.96 372.85,41.01 374.27,41.06 375.70,41.11 377.12,41.17 378.54,41.24 379.96,41.31 381.38,41.39 382.80,41.48 384.23,41.58 385.65,41.69 387.07,41.81 388.49,41.94 389.91,42.09 391.33,42.25 392.75,42.44 394.18,42.63 395.60,42.86 397.02,43.10 398.44,43.37 399.86,43.66 401.28,43.99 402.71,44.35 404.13,44.74 405.55,45.18 406.97,45.65 408.39,46.18 409.81,46.75 411.24,47.38 412.66,48.07 414.08,48.83 415.50,49.65 416.92,50.55 418.34,51.53 419.76,52.60 421.19,53.75 422.61,55.00 424.03,56.35 425.45,57.80 426.87,59.37 428.29,61.04 429.72,62.83 431.14,64.74 432.56,66.77 433.98,68.92 435.40,71.18 436.82,73.55 438.25,76.03 439.67,78.61 441.09,81.29 442.51,84.05 443.93,86.89 445.35,89.78 446.77,92.73 448.20,95.70 449.62,98.69 451.04,101.68 452.46,104.66 453.88,107.61 455.30,110.51 456.73,113.36 458.15,116.13 459.57,118.82 460.99,121.42 462.41,123.92 463.83,126.31 465.26,128.58 466.68,130.75 468.10,132.79 469.52,134.72 470.94,136.53 472.36,138.22 473.78,139.80 475.21,141.27 476.63,142.63 478.05,143.90 479.47,145.07 480.89,146.14 482.31,147.13 483.74,148.04 485.16,148.88 486.58,149.65 488.00,150.34 489.42,150.98 490.84,151.57 492.27,152.10 493.69,152.58 495.11,153.02 496.53,153.42 497.95,153.79 499.37,154.12 500.79,154.42 502.22,154.69 503.64,154.94 505.06,155.16 506.48,155.36 507.90,155.55 509.32,155.71 510.75,155.86 512.17,156.00 513.59,156.12 515.01,156.23 516.43,156.33 517.85,156.42 519.28,156.51 520.70,156.58 522.12,156.65 523.54,156.71 524.96,156.76 526.38,156.81 527.80,156.86" fill="none" stroke="#f01818" stroke-width="1.5"/>
<polyline points="357.21,87.77 358.64,87.77 360.06,87.77 361.48,87.78 362.90,87.78 364.32,87.79 365.74,87.79 367.17,87.80 368.59,87.80 370.01,87.81 371.43,87.82 372.85,87.83 374.27,87.84 375.70,87.86 377.12,87.87 378.54,87.89 379.96,87.91 381.38,87.93 382.80,87.95 384.23,87.98 385.65,88.01 387.07,88.05 388.49,88.09 389.91,88.13 391.33,88.18 392.75,88.24 394.18,88.31 395.60,88.38 397.02,88.47 398.44,88.56 399.86,88.67 401.28,88.79 402.71,88.93 404.13,89.09 405.55,89.26 406.97,89.46 408.39,89.68 409.81,89.94 411.24,90.22 412.66,90.54 414.08,90.89 415.50,91.30 416.92,91.74 418.34,92.25 419.76,92.81 421.19,93.43 422.61,94.13 424.03,94.90 425.45,95.75 426.87,96.69 428.29,97.73 429.72,98.86 431.14,100.10 432.56,101.44 433.98,102.90 435.40,104.46 436.82,106.14 438.25,107.92 439.67,109.81 441.09,111.80 442.51,113.87 443.93,116.02 445.35,118.24 446.77,120.50 448.20,122.79 449.62,125.09 451.04,127.39 452.46,129.67 453.88,131.91 455.30,134.09 456.73,136.20 458.15,138.23 459.57,140.16 460.99,142.00 462.41,143.73 463.83,145.34 465.26,146.85 466.68,148.24 468.10,149.53 469.52,150.71 470.94,151.79 472.36,152.78 473.78,153.67 475.21,154.48 476.63,155.21 478.05,155.86 479.47,156.45 480.89,156.98 482.31,157.45 483.74,157.88 485.16,158.25 486.58,158.59 488.00,158.89 489.42,159.15 490.84,159.39 492.27,159.60 493.69,159.79 495.11,159.95 496.53,160.10 497.95,160.22 499.37,160.34 500.79,160.44 502.22,160.53 503.64,160.61 505.06,160.68 506.48,160.74 507.90,160.79 509.32,160.84 510.75,160.89 512.17,160.92 513.59,160.96 515.01,160.99 516.43,161.01 517.85,161.03 519.28,161.05 520.70,161.07 522.12,161.09 523.54,161.10 524.96,161.11 526.38,161.12 527.80,161.13" fill="none" stroke="#f4f030" stroke-width="1.5"/>
<circle cx="357.20" cy="79.50" r="1.60" fill="#000"/>
<circle cx="364.62" cy="78.20" r="1.60" fill="#000"/>
<circle cx="372.03" cy="80.50" r="1.60" fill="#000"/>
<circle cx="379.45" cy="78.20" r="1.60" fill="#000"/>
<circle cx="386.87" cy="76.70" r="1.60" fill="#000"/>
<circle cx="394.28" cy="71.50" r="1.60" fill="#000"/>
<circle cx="401.70" cy="73.60" r="1.60" fill="#000"/>
<circle cx="409.12" cy="77.60" r="1.60" fill="#000"/>
<circle cx="416.54" cy="85.50" r="1.60" fill="#000"/>
<circle cx="423.95" cy="77.60" r="1.60" fill="#000"/>
<circle cx="431.37" cy="80.50" r="1.60" fill="#000"/>
<circle cx="438.79" cy="91.80" r="1.60" fill="#000"/>
<circle cx="446.20" cy="103.20" r="1.60" fill="#000"/>
<circle cx="453.62" cy="113.50" r="1.60" fill="#000"/>
<circle cx="461.04" cy="124.70" r="1.60" fill="#000"/>
<circle cx="468.45" cy="128.20" r="1.60" fill="#000"/>
<circle cx="475.87" cy="138.20" r="1.60" fill="#000"/>
<circle cx="483.29" cy="148.70" r="1.60" fill="#000"/>
<circle cx="490.71" cy="151.53" r="1.60" fill="#000"/>
<circle cx="498.12" cy="153.30" r="1.60" fill="#000"/>
<circle cx="505.54" cy="157.43" r="1.60" fill="#000"/>
<circle cx="512.96" cy="156.61" r="1.60" fill="#000"/>
<circle cx="520.37" cy="157.23" r="1.60" fill="#000"/>
<circle cx="527.79" cy="157.99" r="1.60" fill="#000"/>
<rect x="355.70" y="32.00" width="3.00" height="3.00" fill="#1a2fe0"/>
<rect x="363.12" y="36.90" width="3.00" height="3.00" fill="#1a2fe0"/>
<rect x="370.53" y="38.50" width="3.00" height="3.00" fill="#1a2fe0"/>
<rect x="377.95" y="37.94" width="3.00" height="3.00" fill="#1a2fe0"/>
<rect x="385.37" y="38.44" width="3.00" height="3.00" fill="#1a2fe0"/>
<rect x="392.78" y="39.70" width="3.00" height="3.00" fill="#1a2fe0"/>
<rect x="400.20" y="39.90" width="3.00" height="3.00" fill="#1a2fe0"/>
<rect x="407.62" y="42.04" width="3.00" height="3.00" fill="#1a2fe0"/>
<rect x="415.04" y="45.80" width="3.00" height="3.00" fill="#1a2fe0"/>
<rect x="422.45" y="49.40" width="3.00" height="3.00" fill="#1a2fe0"/>
<rect x="429.87" y="48.68" width="3.00" height="3.00" fill="#1a2fe0"/>
<rect x="437.29" y="54.90" width="3.00" height="3.00" fill="#1a2fe0"/>
<rect x="444.70" y="65.40" width="3.00" height="3.00" fill="#1a2fe0"/>
<rect x="452.12" y="75.80" width="3.00" height="3.00" fill="#1a2fe0"/>
<rect x="459.54" y="99.47" width="3.00" height="3.00" fill="#1a2fe0"/>
<rect x="466.95" y="122.10" width="3.00" height="3.00" fill="#1a2fe0"/>
<rect x="474.37" y="130.97" width="3.00" height="3.00" fill="#1a2fe0"/>
<rect x="481.79" y="142.92" width="3.00" height="3.00" fill="#1a2fe0"/>
<rect x="489.21" y="147.20" width="3.00" height="3.00" fill="#1a2fe0"/>
<rect x="496.62" y="153.25" width="3.00" height="3.00" fill="#1a2fe0"/>
<rect x="504.04" y="155.23" width="3.00" height="3.00" fill="#1a2fe0"/>
<rect x="511.46" y="154.61" width="3.00" height="3.00" fill="#1a2fe0"/>
<rect x="518.87" y="156.76" width="3.00" height="3.00" fill="#1a2fe0"/>
<rect x="526.29" y="156.84" width="3.00" height="3.00" fill="#1a2fe0"/>
<path d="M357.20,27.58L358.95,30.65L355.45,30.65Z" fill="#19e6f0"/>
<path d="M364.62,28.12L366.37,31.18L362.87,31.18Z" fill="#19e6f0"/>
<path d="M372.03,27.85L373.78,30.91L370.28,30.91Z" fill="#19e6f0"/>
<path d="M379.45,29.55L381.20,32.61L377.70,32.61Z" fill="#19e6f0"/>
<path d="M386.87,32.75L388.62,35.81L385.12,35.81Z" fill="#19e6f0"/>
<path d="M394.28,29.25L396.03,32.31L392.53,32.31Z" fill="#19e6f0"/>
<path d="M401.70,32.08L403.45,35.14L399.95,35.14Z" fill="#19e6f0"/>
<path d="M409.12,30.35L410.87,33.41L407.37,33.41Z" fill="#19e6f0"/>
<path d="M416.54,33.88L418.29,36.94L414.79,36.94Z" fill="#19e6f0"/>
<path d="M423.95,36.25L425.70,39.31L422.20,39.31Z" fill="#19e6f0"/>
<path d="M431.37,44.55L433.12,47.61L429.62,47.61Z" fill="#19e6f0"/>
<path d="M438.79,52.66L440.54,55.72L437.04,55.72Z" fill="#19e6f0"/>
<path d="M446.20,64.65L447.95,67.71L444.45,67.71Z" fill="#19e6f0"/>
<path d="M453.62,79.32L455.37,82.38L451.87,82.38Z" fill="#19e6f0"/>
<path d="M461.04,98.83L462.79,101.90L459.29,101.90Z" fill="#19e6f0"/>
<path d="M468.45,117.20L470.20,120.26L466.70,120.26Z" fill="#19e6f0"/>
<path d="M475.87,130.09L477.62,133.16L474.12,133.16Z" fill="#19e6f0"/>
<path d="M483.29,141.77L485.04,144.84L481.54,144.84Z" fill="#19e6f0"/>
<path d="M490.71,148.26L492.46,151.32L488.96,151.32Z" fill="#19e6f0"/>
<path d="M498.12,150.58L499.87,153.65L496.37,153.65Z" fill="#19e6f0"/>
<path d="M505.54,151.74L507.29,154.80L503.79,154.80Z" fill="#19e6f0"/>
<path d="M512.96,155.91L514.71,158.97L511.21,158.97Z" fill="#19e6f0"/>
<path d="M520.37,154.49L522.12,157.55L518.62,157.55Z" fill="#19e6f0"/>
<path d="M527.79,154.54L529.54,157.61L526.04,157.61Z" fill="#19e6f0"/>
<path d="M357.20,52.65L358.95,49.59L355.45,49.59Z" fill="#18e060"/>
<path d="M364.62,44.33L366.37,41.27L362.87,41.27Z" fill="#18e060"/>
<path d="M372.03,44.58L373.78,41.52L370.28,41.52Z" fill="#18e060"/>
<path d="M379.45,45.55L381.20,42.49L377.70,42.49Z" fill="#18e060"/>
<path d="M386.87,46.65L388.62,43.59L385.12,43.59Z" fill="#18e060"/>
<path d="M394.28,46.15L396.03,43.09L392.53,43.09Z" fill="#18e060"/>
<path d="M401.70,46.04L403.45,42.97L399.95,42.97Z" fill="#18e060"/>
<path d="M409.12,44.82L410.87,41.76L407.37,41.76Z" fill="#18e060"/>
<path d="M416.54,35.65L418.29,32.59L414.79,32.59Z" fill="#18e060"/>
<path d="M423.95,49.88L425.70,46.82L422.20,46.82Z" fill="#18e060"/>
<path d="M431.37,54.92L433.12,51.85L429.62,51.85Z" fill="#18e060"/>
<path d="M438.79,61.05L440.54,57.99L437.04,57.99Z" fill="#18e060"/>
<path d="M446.20,80.85L447.95,77.79L444.45,77.79Z" fill="#18e060"/>
<path d="M453.62,95.95L455.37,92.89L451.87,92.89Z" fill="#18e060"/>
<path d="M461.04,106.25L462.79,103.19L459.29,103.19Z" fill="#18e060"/>
<path d="M468.45,122.74L470.20,119.68L466.70,119.68Z" fill="#18e060"/>
<path d="M475.87,133.25L477.62,130.19L474.12,130.19Z" fill="#18e060"/>
<path d="M483.29,144.57L485.04,141.51L481.54,141.51Z" fill="#18e060"/>
<path d="M490.71,152.68L492.46,149.62L488.96,149.62Z" fill="#18e060"/>
<path d="M498.12,156.37L499.87,153.31L496.37,153.31Z" fill="#18e060"/>
<path d="M505.54,158.13L507.29,155.07L503.79,155.07Z" fill="#18e060"/>
<path d="M512.96,161.00L514.71,157.94L511.21,157.94Z" fill="#18e060"/>
<path d="M520.37,160.08L522.12,157.02L518.62,157.02Z" fill="#18e060"/>
<path d="M527.79,160.14L529.54,157.07L526.04,157.07Z" fill="#18e060"/>
<path d="M357.20,58.20L359.00,60.00L357.20,61.80L355.40,60.00Z" fill="#f020e0"/>
<path d="M364.62,59.70L366.42,61.50L364.62,63.30L362.82,61.50Z" fill="#f020e0"/>
<path d="M372.03,56.70L373.83,58.50L372.03,60.30L370.23,58.50Z" fill="#f020e0"/>
<path d="M379.45,64.60L381.25,66.40L379.45,68.20L377.65,66.40Z" fill="#f020e0"/>
<path d="M386.87,65.10L388.67,66.90L386.87,68.70L385.07,66.90Z" fill="#f020e0"/>
<path d="M394.28,67.30L396.08,69.10L394.28,70.90L392.48,69.10Z" fill="#f020e0"/>
<path d="M401.70,67.30L403.50,69.10L401.70,70.90L399.90,69.10Z" fill="#f020e0"/>
<path d="M409.12,66.90L410.92,68.70L409.12,70.50L407.32,68.70Z" fill="#f020e0"/>
<path d="M416.54,73.70L418.34,75.50L416.54,77.30L414.74,75.50Z" fill="#f020e0"/>
<path d="M423.95,80.00L425.75,81.80L423.95,83.60L422.15,81.80Z" fill="#f020e0"/>
<path d="M431.37,86.40L433.17,88.20L431.37,90.00L429.57,88.20Z" fill="#f020e0"/>
<path d="M438.79,100.17L440.59,101.97L438.79,103.77L436.99,101.97Z" fill="#f020e0"/>
<path d="M446.20,110.00L448.00,111.80L446.20,113.60L444.40,111.80Z" fill="#f020e0"/>
<path d="M453.62,121.50L455.42,123.30L453.62,125.10L451.82,123.30Z" fill="#f020e0"/>
<path d="M461.04,118.20L462.84,120.00L461.04,121.80L459.24,120.00Z" fill="#f020e0"/>
<path d="M468.45,140.04L470.25,141.84L468.45,143.64L466.65,141.84Z" fill="#f020e0"/>
<path d="M475.87,146.53L477.67,148.33L475.87,150.13L474.07,148.33Z" fill="#f020e0"/>
<path d="M483.29,151.14L485.09,152.94L483.29,154.74L481.49,152.94Z" fill="#f020e0"/>
<path d="M490.71,152.61L492.51,154.41L490.71,156.21L488.91,154.41Z" fill="#f020e0"/>
<path d="M498.12,157.02L499.92,158.82L498.12,160.62L496.32,158.82Z" fill="#f020e0"/>
<path d="M505.54,156.69L507.34,158.49L505.54,160.29L503.74,158.49Z" fill="#f020e0"/>
<path d="M512.96,157.31L514.76,159.11L512.96,160.91L511.16,159.11Z" fill="#f020e0"/>
<path d="M520.37,157.25L522.17,159.05L520.37,160.85L518.57,159.05Z" fill="#f020e0"/>
<path d="M527.79,159.21L529.59,161.01L527.79,162.81L525.99,161.01Z" fill="#f020e0"/>
<circle cx="357.20" cy="53.90" r="1.65" fill="#f00" stroke="#300" stroke-width="0.80"/>
<circle cx="364.62" cy="52.30" r="1.65" fill="#f00" stroke="#300" stroke-width="0.80"/>
<circle cx="372.03" cy="45.50" r="1.65" fill="#f00" stroke="#300" stroke-width="0.80"/>
<circle cx="379.45" cy="37.00" r="1.65" fill="#f00" stroke="#300" stroke-width="0.80"/>
<circle cx="386.87" cy="40.00" r="1.65" fill="#f00" stroke="#300" stroke-width="0.80"/>
<circle cx="394.28" cy="47.10" r="1.65" fill="#f00" stroke="#300" stroke-width="0.80"/>
<circle cx="401.70" cy="36.70" r="1.65" fill="#f00" stroke="#300" stroke-width="0.80"/>
<circle cx="409.12" cy="38.90" r="1.65" fill="#f00" stroke="#300" stroke-width="0.80"/>
<circle cx="416.54" cy="39.80" r="1.65" fill="#f00" stroke="#300" stroke-width="0.80"/>
<circle cx="423.95" cy="46.90" r="1.65" fill="#f00" stroke="#300" stroke-width="0.80"/>
<circle cx="431.37" cy="53.40" r="1.65" fill="#f00" stroke="#300" stroke-width="0.80"/>
<circle cx="438.79" cy="79.60" r="1.65" fill="#f00" stroke="#300" stroke-width="0.80"/>
<circle cx="446.20" cy="111.80" r="1.65" fill="#f00" stroke="#300" stroke-width="0.80"/>
<circle cx="453.62" cy="124.10" r="1.65" fill="#f00" stroke="#300" stroke-width="0.80"/>
<circle cx="461.04" cy="114.20" r="1.65" fill="#f00" stroke="#300" stroke-width="0.80"/>
<circle cx="468.45" cy="133.46" r="1.65" fill="#f00" stroke="#300" stroke-width="0.80"/>
<circle cx="475.87" cy="142.82" r="1.65" fill="#f00" stroke="#300" stroke-width="0.80"/>
<circle cx="483.29" cy="148.66" r="1.65" fill="#f00" stroke="#300" stroke-width="0.80"/>
<circle cx="490.71" cy="152.83" r="1.65" fill="#f00" stroke="#300" stroke-width="0.80"/>
<circle cx="498.12" cy="153.06" r="1.65" fill="#f00" stroke="#300" stroke-width="0.80"/>
<circle cx="505.54" cy="156.91" r="1.65" fill="#f00" stroke="#300" stroke-width="0.80"/>
<circle cx="512.96" cy="156.31" r="1.65" fill="#f00" stroke="#300" stroke-width="0.80"/>
<circle cx="520.37" cy="157.46" r="1.65" fill="#f00" stroke="#300" stroke-width="0.80"/>
<circle cx="527.79" cy="157.77" r="1.65" fill="#f00" stroke="#300" stroke-width="0.80"/>
<rect x="355.60" y="99.90" width="3.20" height="3.20" fill="#ff2" stroke="#222" stroke-width="0.80"/>
<rect x="363.02" y="89.30" width="3.20" height="3.20" fill="#ff2" stroke="#222" stroke-width="0.80"/>
<rect x="370.43" y="89.30" width="3.20" height="3.20" fill="#ff2" stroke="#222" stroke-width="0.80"/>
<rect x="377.85" y="85.10" width="3.20" height="3.20" fill="#ff2" stroke="#222" stroke-width="0.80"/>
<rect x="385.27" y="87.00" width="3.20" height="3.20" fill="#ff2" stroke="#222" stroke-width="0.80"/>
<rect x="392.68" y="85.10" width="3.20" height="3.20" fill="#ff2" stroke="#222" stroke-width="0.80"/>
<rect x="400.10" y="87.10" width="3.20" height="3.20" fill="#ff2" stroke="#222" stroke-width="0.80"/>
<rect x="407.52" y="80.20" width="3.20" height="3.20" fill="#ff2" stroke="#222" stroke-width="0.80"/>
<rect x="414.94" y="79.30" width="3.20" height="3.20" fill="#ff2" stroke="#222" stroke-width="0.80"/>
<rect x="422.35" y="86.20" width="3.20" height="3.20" fill="#ff2" stroke="#222" stroke-width="0.80"/>
<rect x="429.77" y="94.00" width="3.20" height="3.20" fill="#ff2" stroke="#222" stroke-width="0.80"/>
<rect x="437.19" y="106.60" width="3.20" height="3.20" fill="#ff2" stroke="#222" stroke-width="0.80"/>
<rect x="444.60" y="120.40" width="3.20" height="3.20" fill="#ff2" stroke="#222" stroke-width="0.80"/>
<rect x="452.02" y="135.70" width="3.20" height="3.20" fill="#ff2" stroke="#222" stroke-width="0.80"/>
<rect x="459.44" y="134.80" width="3.20" height="3.20" fill="#ff2" stroke="#222" stroke-width="0.80"/>
<rect x="466.85" y="137.90" width="3.20" height="3.20" fill="#ff2" stroke="#222" stroke-width="0.80"/>
<rect x="474.27" y="144.80" width="3.20" height="3.20" fill="#ff2" stroke="#222" stroke-width="0.80"/>
<rect x="481.69" y="151.10" width="3.20" height="3.20" fill="#ff2" stroke="#222" stroke-width="0.80"/>
<rect x="489.11" y="154.20" width="3.20" height="3.20" fill="#ff2" stroke="#222" stroke-width="0.80"/>
<rect x="496.52" y="157.10" width="3.20" height="3.20" fill="#ff2" stroke="#222" stroke-width="0.80"/>
<rect x="503.94" y="158.40" width="3.20" height="3.20" fill="#ff2" stroke="#222" stroke-width="0.80"/>
<rect x="511.36" y="160.80" width="3.20" height="3.20" fill="#ff2" stroke="#222" stroke-width="0.80"/>
<rect x="518.77" y="162.00" width="3.20" height="3.20" fill="#ff2" stroke="#222" stroke-width="0.80"/>
<rect x="526.19" y="162.00" width="3.20" height="3.20" fill="#ff2" stroke="#222" stroke-width="0.80"/>
<line x1="513.00" y1="35.70" x2="523.00" y2="35.70" stroke="#000" stroke-width="1.5" />
<circle cx="518.00" cy="35.70" r="1.52" fill="#000"/>
<text x="526.50" y="40.60" font-size="15.3" text-anchor="start" fill="#000" >5f</text>
<line x1="513.00" y1="49.57" x2="523.00" y2="49.57" stroke="#1a2fe0" stroke-width="1.5" />
<rect x="516.58" y="48.15" width="2.85" height="2.85" fill="#1a2fe0"/>
<text x="526.50" y="54.47" font-size="15.3" text-anchor="start" fill="#000" >8a</text>
<line x1="513.00" y1="63.44" x2="523.00" y2="63.44" stroke="#19e6f0" stroke-width="1.5" />
<path d="M518.00,61.78L519.66,64.69L516.34,64.69Z" fill="#19e6f0"/>
<text x="526.50" y="68.34" font-size="15.3" text-anchor="start" fill="#000" >8b</text>
<line x1="513.00" y1="77.31" x2="523.00" y2="77.31" stroke="#18e060" stroke-width="1.5" />
<path d="M518.00,78.97L519.66,76.06L516.34,76.06Z" fill="#18e060"/>
<text x="526.50" y="82.21" font-size="15.3" text-anchor="start" fill="#000" >8c</text>
<line x1="513.00" y1="91.18" x2="523.00" y2="91.18" stroke="#f020e0" stroke-width="1.5" />
<path d="M518.00,89.47L519.71,91.18L518.00,92.89L516.29,91.18Z" fill="#f020e0"/>
<text x="526.50" y="96.08" font-size="15.3" text-anchor="start" fill="#000" >8d</text>
<line x1="513.00" y1="105.05" x2="523.00" y2="105.05" stroke="#e01010" stroke-width="1.5" />
<circle cx="518.00" cy="105.05" r="1.57" fill="#f00" stroke="#300" stroke-width="0.76"/>
<text x="526.50" y="109.95" font-size="15.3" text-anchor="start" fill="#000" >8e</text>
<line x1="513.00" y1="118.92" x2="523.00" y2="118.92" stroke="#e8e020" stroke-width="1.5" />
<rect x="516.48" y="117.40" width="3.04" height="3.04" fill="#ff2" stroke="#222" stroke-width="0.76"/>
<text x="526.50" y="123.82" font-size="15.3" text-anchor="start" fill="#000" >8f</text>
<line x1="57.10" y1="226.75" x2="57.10" y2="387.25" stroke="#000" stroke-width="1.5" />
<line x1="56.35" y1="386.50" x2="254.00" y2="386.50" stroke="#000" stroke-width="1.5" />
<line x1="54.10" y1="386.50" x2="57.10" y2="386.50" stroke="#000" stroke-width="1.2" />
<text x="53.90" y="389.80" font-size="10.1" text-anchor="end" fill="#222" stroke="#222" stroke-width="0.2">0.0</text>
<line x1="54.10" y1="346.75" x2="57.10" y2="346.75" stroke="#000" stroke-width="1.2" />
<text x="53.90" y="350.05" font-size="10.1" text-anchor="end" fill="#222" stroke="#222" stroke-width="0.2">0.5</text>
<line x1="54.10" y1="307.00" x2="57.10" y2="307.00" stroke="#000" stroke-width="1.2" />
<text x="53.90" y="310.30" font-size="10.1" text-anchor="end" fill="#222" stroke="#222" stroke-width="0.2">1.0</text>
<line x1="54.10" y1="267.25" x2="57.10" y2="267.25" stroke="#000" stroke-width="1.2" />
<text x="53.90" y="270.55" font-size="10.1" text-anchor="end" fill="#222" stroke="#222" stroke-width="0.2">1.5</text>
<line x1="54.10" y1="227.50" x2="57.10" y2="227.50" stroke="#000" stroke-width="1.2" />
<text x="53.90" y="230.80" font-size="10.1" text-anchor="end" fill="#222" stroke="#222" stroke-width="0.2">2.0</text>
<line x1="81.30" y1="386.50" x2="81.30" y2="389.50" stroke="#000" stroke-width="1.2" />
<text x="81.30" y="398.70" font-size="10.1" text-anchor="middle" fill="#222" stroke="#222" stroke-width="0.2">2</text>
<line x1="130.50" y1="386.50" x2="130.50" y2="389.50" stroke="#000" stroke-width="1.2" />
<text x="130.50" y="398.70" font-size="10.1" text-anchor="middle" fill="#222" stroke="#222" stroke-width="0.2">4</text>
<line x1="179.70" y1="386.50" x2="179.70" y2="389.50" stroke="#000" stroke-width="1.2" />
<text x="179.70" y="398.70" font-size="10.1" text-anchor="middle" fill="#222" stroke="#222" stroke-width="0.2">6</text>
<line x1="228.90" y1="386.50" x2="228.90" y2="389.50" stroke="#000" stroke-width="1.2" />
<text x="228.90" y="398.70" font-size="10.1" text-anchor="middle" fill="#222" stroke="#222" stroke-width="0.2">8</text>
<text x="3.00" y="233.00" font-size="20.5" text-anchor="start" fill="#000" >c)</text>
<text transform="translate(37.3,303.8) rotate(-90)" font-size="15.2" text-anchor="middle" fill="#000">Abs at 450nm</text>
<text x="155.50" y="417.80" font-size="15.2" text-anchor="middle" fill="#000" >Lactose Conc. (log nM)</text>
<polyline points="69.00,357.16 70.44,357.16 71.87,357.17 73.30,357.18 74.74,357.19 76.17,357.20 77.61,357.21 79.04,357.22 80.48,357.23 81.91,357.24 83.35,357.26 84.78,357.27 86.22,357.29 87.66,357.31 89.09,357.33 90.53,357.35 91.96,357.38 93.39,357.40 94.83,357.43 96.27,357.46 97.70,357.50 99.14,357.53 100.57,357.57 102.00,357.62 103.44,357.66 104.88,357.72 106.31,357.77 107.75,357.83 109.18,357.90 110.61,357.97 112.05,358.05 113.49,358.13 114.92,358.22 116.35,358.32 117.79,358.43 119.22,358.55 120.66,358.67 122.09,358.81 123.53,358.95 124.97,359.11 126.40,359.28 127.84,359.46 129.27,359.66 130.70,359.87 132.14,360.09 133.57,360.33 135.01,360.58 136.45,360.86 137.88,361.15 139.31,361.45 140.75,361.78 142.19,362.12 143.62,362.49 145.06,362.87 146.49,363.27 147.93,363.69 149.36,364.12 150.80,364.58 152.23,365.05 153.66,365.53 155.10,366.03 156.54,366.55 157.97,367.07 159.41,367.61 160.84,368.15 162.27,368.70 163.71,369.25 165.14,369.81 166.58,370.36 168.02,370.92 169.45,371.47 170.88,372.01 172.32,372.55 173.75,373.07 175.19,373.58 176.62,374.08 178.06,374.57 179.50,375.04 180.93,375.49 182.37,375.93 183.80,376.35 185.24,376.75 186.67,377.13 188.11,377.49 189.54,377.83 190.97,378.16 192.41,378.47 193.85,378.76 195.28,379.03 196.72,379.28 198.15,379.52 199.59,379.75 201.02,379.96 202.45,380.15 203.89,380.33 205.33,380.50 206.76,380.66 208.19,380.80 209.63,380.94 211.06,381.06 212.50,381.18 213.94,381.29 215.37,381.39 216.81,381.48 218.24,381.56 219.68,381.64 221.11,381.71 222.55,381.78 223.98,381.84 225.42,381.89 226.85,381.95 228.29,381.99 229.72,382.04 231.16,382.08 232.59,382.11 234.02,382.15 235.46,382.18 236.89,382.21 238.33,382.23 239.76,382.26 241.20,382.28" fill="none" stroke="#000" stroke-width="1.5"/>
<polyline points="69.00,322.77 70.44,322.78 71.87,322.78 73.30,322.78 74.74,322.79 76.17,322.79 77.61,322.80 79.04,322.80 80.48,322.81 81.91,322.82 83.35,322.83 84.78,322.83 86.22,322.84 87.66,322.85 89.09,322.87 90.53,322.88 91.96,322.89 93.39,322.91 94.83,322.93 96.27,322.94 97.70,322.97 99.14,322.99 100.57,323.01 102.00,323.04 103.44,323.07 104.88,323.11 106.31,323.14 107.75,323.18 109.18,323.23 110.61,323.28 112.05,323.33 113.49,323.39 114.92,323.46 116.35,323.53 117.79,323.61 119.22,323.70 120.66,323.80 122.09,323.91 123.53,324.02 124.97,324.15 126.40,324.29 127.84,324.45 129.27,324.62 130.70,324.80 132.14,325.01 133.57,325.23 135.01,325.47 136.45,325.74 137.88,326.03 139.31,326.35 140.75,326.69 142.19,327.07 143.62,327.47 145.06,327.91 146.49,328.39 147.93,328.91 149.36,329.47 150.80,330.07 152.23,330.71 153.66,331.40 155.10,332.14 156.54,332.93 157.97,333.77 159.41,334.66 160.84,335.61 162.27,336.60 163.71,337.64 165.14,338.73 166.58,339.87 168.02,341.05 169.45,342.27 170.88,343.53 172.32,344.82 173.75,346.13 175.19,347.46 176.62,348.81 178.06,350.17 179.50,351.53 180.93,352.88 182.37,354.22 183.80,355.54 185.24,356.85 186.67,358.12 188.11,359.35 189.54,360.55 190.97,361.71 192.41,362.83 193.85,363.89 195.28,364.91 196.72,365.87 198.15,366.79 199.59,367.65 201.02,368.47 202.45,369.23 203.89,369.94 205.33,370.61 206.76,371.23 208.19,371.81 209.63,372.34 211.06,372.84 212.50,373.30 213.94,373.72 215.37,374.11 216.81,374.47 218.24,374.80 219.68,375.10 221.11,375.38 222.55,375.63 223.98,375.86 225.42,376.08 226.85,376.27 228.29,376.45 229.72,376.61 231.16,376.76 232.59,376.89 234.02,377.01 235.46,377.12 236.89,377.23 238.33,377.32 239.76,377.40 241.20,377.48" fill="none" stroke="#1a2fe0" stroke-width="1.5"/>
<polyline points="69.00,276.50 70.44,276.50 71.87,276.50 73.30,276.50 74.74,276.51 76.17,276.51 77.61,276.52 79.04,276.52 80.48,276.53 81.91,276.53 83.35,276.54 84.78,276.55 86.22,276.56 87.66,276.57 89.09,276.58 90.53,276.59 91.96,276.60 93.39,276.62 94.83,276.64 96.27,276.66 97.70,276.68 99.14,276.70 100.57,276.73 102.00,276.76 103.44,276.79 104.88,276.83 106.31,276.87 107.75,276.91 109.18,276.96 110.61,277.02 112.05,277.08 113.49,277.16 114.92,277.23 116.35,277.32 117.79,277.42 119.22,277.53 120.66,277.65 122.09,277.78 123.53,277.93 124.97,278.10 126.40,278.28 127.84,278.49 129.27,278.71 130.70,278.97 132.14,279.25 133.57,279.56 135.01,279.90 136.45,280.28 137.88,280.70 139.31,281.17 140.75,281.69 142.19,282.25 143.62,282.88 145.06,283.57 146.49,284.32 147.93,285.15 149.36,286.06 150.80,287.05 152.23,288.13 153.66,289.30 155.10,290.57 156.54,291.95 157.97,293.43 159.41,295.02 160.84,296.73 162.27,298.55 163.71,300.48 165.14,302.53 166.58,304.68 168.02,306.94 169.45,309.29 170.88,311.73 172.32,314.25 173.75,316.83 175.19,319.47 176.62,322.14 178.06,324.84 179.50,327.54 180.93,330.23 182.37,332.90 183.80,335.52 185.24,338.09 186.67,340.59 188.11,343.01 189.54,345.34 190.97,347.57 192.41,349.69 193.85,351.71 195.28,353.61 196.72,355.40 198.15,357.08 199.59,358.64 201.02,360.10 202.45,361.45 203.89,362.69 205.33,363.84 206.76,364.90 208.19,365.87 209.63,366.75 211.06,367.56 212.50,368.30 213.94,368.97 215.37,369.58 216.81,370.13 218.24,370.64 219.68,371.09 221.11,371.50 222.55,371.87 223.98,372.21 225.42,372.51 226.85,372.78 228.29,373.03 229.72,373.25 231.16,373.45 232.59,373.63 234.02,373.79 235.46,373.94 236.89,374.07 238.33,374.19 239.76,374.29 241.20,374.39" fill="none" stroke="#19e6f0" stroke-width="1.5"/>
<polyline points="69.00,287.15 70.44,287.15 71.87,287.15 73.30,287.15 74.74,287.16 76.17,287.16 77.61,287.16 79.04,287.17 80.48,287.17 81.91,287.18 83.35,287.18 84.78,287.19 86.22,287.20 87.66,287.21 89.09,287.21 90.53,287.22 91.96,287.24 93.39,287.25 94.83,287.26 96.27,287.28 97.70,287.29 99.14,287.31 100.57,287.33 102.00,287.36 103.44,287.38 104.88,287.41 106.31,287.45 107.75,287.48 109.18,287.52 110.61,287.57 112.05,287.62 113.49,287.67 114.92,287.73 116.35,287.80 117.79,287.88 119.22,287.96 120.66,288.05 122.09,288.16 123.53,288.27 124.97,288.40 126.40,288.54 127.84,288.70 129.27,288.87 130.70,289.06 132.14,289.27 133.57,289.51 135.01,289.77 136.45,290.06 137.88,290.38 139.31,290.73 140.75,291.12 142.19,291.55 143.62,292.02 145.06,292.54 146.49,293.10 147.93,293.73 149.36,294.41 150.80,295.16 152.23,295.98 153.66,296.86 155.10,297.83 156.54,298.88 157.97,300.01 159.41,301.24 160.84,302.55 162.27,303.96 163.71,305.47 165.14,307.08 166.58,308.78 168.02,310.58 169.45,312.47 170.88,314.46 172.32,316.53 173.75,318.67 175.19,320.88 176.62,323.16 178.06,325.47 179.50,327.83 180.93,330.21 182.37,332.59 183.80,334.98 185.24,337.34 186.67,339.68 188.11,341.97 189.54,344.20 190.97,346.37 192.41,348.47 193.85,350.49 195.28,352.41 196.72,354.25 198.15,355.99 199.59,357.63 201.02,359.18 202.45,360.62 203.89,361.97 205.33,363.23 206.76,364.40 208.19,365.48 209.63,366.47 211.06,367.39 212.50,368.23 213.94,369.01 215.37,369.71 216.81,370.36 218.24,370.95 219.68,371.48 221.11,371.97 222.55,372.41 223.98,372.82 225.42,373.18 226.85,373.51 228.29,373.81 229.72,374.08 231.16,374.33 232.59,374.55 234.02,374.75 235.46,374.93 236.89,375.09 238.33,375.24 239.76,375.37 241.20,375.49" fill="none" stroke="#18e060" stroke-width="1.5"/>
<polyline points="69.00,294.05 70.44,294.05 71.87,294.06 73.30,294.06 74.74,294.06 76.17,294.06 77.61,294.06 79.04,294.07 80.48,294.07 81.91,294.07 83.35,294.08 84.78,294.08 86.22,294.09 87.66,294.09 89.09,294.10 90.53,294.11 91.96,294.12 93.39,294.13 94.83,294.14 96.27,294.15 97.70,294.16 99.14,294.18 100.57,294.19 102.00,294.21 103.44,294.23 104.88,294.26 106.31,294.28 107.75,294.31 109.18,294.35 110.61,294.38 112.05,294.43 113.49,294.47 114.92,294.53 116.35,294.59 117.79,294.65 119.22,294.73 120.66,294.81 122.09,294.91 123.53,295.02 124.97,295.13 126.40,295.27 127.84,295.42 129.27,295.58 130.70,295.77 132.14,295.98 133.57,296.22 135.01,296.48 136.45,296.77 137.88,297.09 139.31,297.46 140.75,297.86 142.19,298.31 143.62,298.81 145.06,299.36 146.49,299.97 147.93,300.65 149.36,301.40 150.80,302.22 152.23,303.12 153.66,304.11 155.10,305.19 156.54,306.37 157.97,307.65 159.41,309.03 160.84,310.52 162.27,312.12 163.71,313.82 165.14,315.64 166.58,317.55 168.02,319.57 169.45,321.68 170.88,323.88 172.32,326.15 173.75,328.47 175.19,330.85 176.62,333.26 178.06,335.68 179.50,338.10 180.93,340.50 182.37,342.88 183.80,345.20 185.24,347.46 186.67,349.64 188.11,351.74 189.54,353.75 190.97,355.66 192.41,357.46 193.85,359.15 195.28,360.74 196.72,362.22 198.15,363.59 199.59,364.85 201.02,366.02 202.45,367.09 203.89,368.07 205.33,368.96 206.76,369.77 208.19,370.51 209.63,371.18 211.06,371.79 212.50,372.33 213.94,372.82 215.37,373.27 216.81,373.67 218.24,374.03 219.68,374.35 221.11,374.64 222.55,374.89 223.98,375.13 225.42,375.33 226.85,375.52 228.29,375.68 229.72,375.83 231.16,375.96 232.59,376.08 234.02,376.18 235.46,376.28 236.89,376.36 238.33,376.43 239.76,376.50 241.20,376.56" fill="none" stroke="#f020e0" stroke-width="1.5"/>
<polyline points="69.00,301.85 70.44,301.85 71.87,301.85 73.30,301.85 74.74,301.86 76.17,301.86 77.61,301.86 79.04,301.86 80.48,301.87 81.91,301.87 83.35,301.88 84.78,301.88 86.22,301.89 87.66,301.90 89.09,301.90 90.53,301.91 91.96,301.92 93.39,301.93 94.83,301.95 96.27,301.96 97.70,301.97 99.14,301.99 100.57,302.01 102.00,302.03 103.44,302.06 104.88,302.08 106.31,302.11 107.75,302.15 109.18,302.19 110.61,302.23 112.05,302.28 113.49,302.33 114.92,302.39 116.35,302.45 117.79,302.53 119.22,302.61 120.66,302.71 122.09,302.81 123.53,302.93 124.97,303.06 126.40,303.20 127.84,303.36 129.27,303.55 130.70,303.75 132.14,303.97 133.57,304.22 135.01,304.50 136.45,304.81 137.88,305.16 139.31,305.54 140.75,305.96 142.19,306.43 143.62,306.95 145.06,307.53 146.49,308.16 147.93,308.85 149.36,309.61 150.80,310.45 152.23,311.36 153.66,312.36 155.10,313.44 156.54,314.61 157.97,315.87 159.41,317.22 160.84,318.68 162.27,320.22 163.71,321.87 165.14,323.60 166.58,325.42 168.02,327.32 169.45,329.30 170.88,331.34 172.32,333.44 173.75,335.58 175.19,337.74 176.62,339.92 178.06,342.11 179.50,344.28 180.93,346.42 182.37,348.53 183.80,350.58 185.24,352.57 186.67,354.48 188.11,356.32 189.54,358.07 190.97,359.73 192.41,361.29 193.85,362.76 195.28,364.13 196.72,365.41 198.15,366.59 199.59,367.69 201.02,368.70 202.45,369.62 203.89,370.47 205.33,371.25 206.76,371.95 208.19,372.59 209.63,373.18 211.06,373.70 212.50,374.18 213.94,374.61 215.37,375.00 216.81,375.35 218.24,375.67 219.68,375.95 221.11,376.21 222.55,376.44 223.98,376.65 225.42,376.83 226.85,377.00 228.29,377.14 229.72,377.28 231.16,377.39 232.59,377.50 234.02,377.60 235.46,377.68 236.89,377.76 238.33,377.82 239.76,377.89 241.20,377.94" fill="none" stroke="#f01818" stroke-width="1.5"/>
<polyline points="69.00,312.57 70.44,312.57 71.87,312.57 73.30,312.57 74.74,312.57 76.17,312.57 77.61,312.57 79.04,312.57 80.48,312.57 81.91,312.57 83.35,312.57 84.78,312.57 86.22,312.57 87.66,312.57 89.09,312.58 90.53,312.58 91.96,312.58 93.39,312.58 94.83,312.58 96.27,312.59 97.70,312.59 99.14,312.59 100.57,312.60 102.00,312.60 103.44,312.61 104.88,312.62 106.31,312.62 107.75,312.63 109.18,312.64 110.61,312.65 112.05,312.66 113.49,312.68 114.92,312.70 116.35,312.72 117.79,312.74 119.22,312.76 120.66,312.79 122.09,312.83 123.53,312.86 124.97,312.91 126.40,312.96 127.84,313.02 129.27,313.08 130.70,313.16 132.14,313.24 133.57,313.34 135.01,313.46 136.45,313.58 137.88,313.73 139.31,313.90 140.75,314.09 142.19,314.31 143.62,314.56 145.06,314.85 146.49,315.17 147.93,315.54 149.36,315.95 150.80,316.42 152.23,316.95 153.66,317.55 155.10,318.22 156.54,318.97 157.97,319.81 159.41,320.75 160.84,321.79 162.27,322.93 163.71,324.19 165.14,325.56 166.58,327.05 168.02,328.66 169.45,330.39 170.88,332.23 172.32,334.17 173.75,336.20 175.19,338.32 176.62,340.49 178.06,342.71 179.50,344.96 180.93,347.21 182.37,349.43 183.80,351.63 185.24,353.76 186.67,355.82 188.11,357.79 189.54,359.66 190.97,361.42 192.41,363.06 193.85,364.59 195.28,365.99 196.72,367.28 198.15,368.46 199.59,369.52 201.02,370.49 202.45,371.35 203.89,372.13 205.33,372.83 206.76,373.44 208.19,373.99 209.63,374.48 211.06,374.91 212.50,375.29 213.94,375.62 215.37,375.92 216.81,376.18 218.24,376.41 219.68,376.61 221.11,376.78 222.55,376.93 223.98,377.07 225.42,377.19 226.85,377.29 228.29,377.38 229.72,377.46 231.16,377.52 232.59,377.58 234.02,377.64 235.46,377.68 236.89,377.72 238.33,377.76 239.76,377.79 241.20,377.81" fill="none" stroke="#f4f030" stroke-width="1.5"/>
<circle cx="70.20" cy="357.70" r="1.60" fill="#000"/>
<circle cx="77.62" cy="356.30" r="1.60" fill="#000"/>
<circle cx="85.04" cy="359.20" r="1.60" fill="#000"/>
<circle cx="92.46" cy="350.50" r="1.60" fill="#000"/>
<circle cx="99.88" cy="357.70" r="1.60" fill="#000"/>
<circle cx="107.30" cy="361.00" r="1.60" fill="#000"/>
<circle cx="114.72" cy="358.10" r="1.60" fill="#000"/>
<circle cx="122.14" cy="362.30" r="1.60" fill="#000"/>
<circle cx="129.56" cy="361.40" r="1.60" fill="#000"/>
<circle cx="136.98" cy="362.30" r="1.60" fill="#000"/>
<circle cx="144.40" cy="364.60" r="1.60" fill="#000"/>
<circle cx="151.82" cy="362.30" r="1.60" fill="#000"/>
<circle cx="159.24" cy="366.50" r="1.60" fill="#000"/>
<circle cx="166.66" cy="366.80" r="1.60" fill="#000"/>
<circle cx="174.08" cy="372.30" r="1.60" fill="#000"/>
<circle cx="181.50" cy="374.10" r="1.60" fill="#000"/>
<circle cx="188.92" cy="377.70" r="1.60" fill="#000"/>
<circle cx="196.34" cy="379.50" r="1.60" fill="#000"/>
<circle cx="203.76" cy="379.50" r="1.60" fill="#000"/>
<circle cx="211.18" cy="380.80" r="1.60" fill="#000"/>
<circle cx="218.60" cy="381.90" r="1.60" fill="#000"/>
<circle cx="226.02" cy="381.90" r="1.60" fill="#000"/>
<circle cx="233.44" cy="382.30" r="1.60" fill="#000"/>
<circle cx="240.86" cy="380.80" r="1.60" fill="#000"/>
<rect x="68.70" y="323.80" width="3.00" height="3.00" fill="#1a2fe0"/>
<rect x="76.12" y="324.90" width="3.00" height="3.00" fill="#1a2fe0"/>
<rect x="83.54" y="321.30" width="3.00" height="3.00" fill="#1a2fe0"/>
<rect x="90.96" y="321.30" width="3.00" height="3.00" fill="#1a2fe0"/>
<rect x="98.38" y="320.58" width="3.00" height="3.00" fill="#1a2fe0"/>
<rect x="105.80" y="317.60" width="3.00" height="3.00" fill="#1a2fe0"/>
<rect x="113.22" y="320.70" width="3.00" height="3.00" fill="#1a2fe0"/>
<rect x="120.64" y="323.00" width="3.00" height="3.00" fill="#1a2fe0"/>
<rect x="128.06" y="320.30" width="3.00" height="3.00" fill="#1a2fe0"/>
<rect x="135.48" y="323.00" width="3.00" height="3.00" fill="#1a2fe0"/>
<rect x="142.90" y="326.80" width="3.00" height="3.00" fill="#1a2fe0"/>
<rect x="150.32" y="323.00" width="3.00" height="3.00" fill="#1a2fe0"/>
<rect x="157.74" y="337.80" width="3.00" height="3.00" fill="#1a2fe0"/>
<rect x="165.16" y="342.20" width="3.00" height="3.00" fill="#1a2fe0"/>
<rect x="172.58" y="344.00" width="3.00" height="3.00" fill="#1a2fe0"/>
<rect x="180.00" y="349.90" width="3.00" height="3.00" fill="#1a2fe0"/>
<rect x="187.42" y="358.55" width="3.00" height="3.00" fill="#1a2fe0"/>
<rect x="194.84" y="362.91" width="3.00" height="3.00" fill="#1a2fe0"/>
<rect x="202.26" y="369.54" width="3.00" height="3.00" fill="#1a2fe0"/>
<rect x="209.68" y="370.41" width="3.00" height="3.00" fill="#1a2fe0"/>
<rect x="217.10" y="373.57" width="3.00" height="3.00" fill="#1a2fe0"/>
<rect x="224.52" y="376.19" width="3.00" height="3.00" fill="#1a2fe0"/>
<rect x="231.94" y="375.09" width="3.00" height="3.00" fill="#1a2fe0"/>
<rect x="239.36" y="377.65" width="3.00" height="3.00" fill="#1a2fe0"/>
<path d="M70.20,269.55L71.95,272.61L68.45,272.61Z" fill="#19e6f0"/>
<path d="M77.62,276.49L79.37,279.55L75.87,279.55Z" fill="#19e6f0"/>
<path d="M85.04,273.20L86.79,276.26L83.29,276.26Z" fill="#19e6f0"/>
<path d="M92.46,275.67L94.21,278.74L90.71,278.74Z" fill="#19e6f0"/>
<path d="M99.88,277.35L101.63,280.41L98.13,280.41Z" fill="#19e6f0"/>
<path d="M107.30,277.35L109.05,280.41L105.55,280.41Z" fill="#19e6f0"/>
<path d="M114.72,275.41L116.47,278.48L112.97,278.48Z" fill="#19e6f0"/>
<path d="M122.14,272.45L123.89,275.51L120.39,275.51Z" fill="#19e6f0"/>
<path d="M129.56,278.60L131.31,281.66L127.81,281.66Z" fill="#19e6f0"/>
<path d="M136.98,278.35L138.73,281.41L135.23,281.41Z" fill="#19e6f0"/>
<path d="M144.40,283.00L146.15,286.07L142.65,286.07Z" fill="#19e6f0"/>
<path d="M151.82,275.55L153.57,278.61L150.07,278.61Z" fill="#19e6f0"/>
<path d="M159.24,292.35L160.99,295.41L157.49,295.41Z" fill="#19e6f0"/>
<path d="M166.66,301.83L168.41,304.89L164.91,304.89Z" fill="#19e6f0"/>
<path d="M174.08,320.55L175.83,323.61L172.33,323.61Z" fill="#19e6f0"/>
<path d="M181.50,331.32L183.25,334.39L179.75,334.39Z" fill="#19e6f0"/>
<path d="M188.92,337.75L190.67,340.81L187.17,340.81Z" fill="#19e6f0"/>
<path d="M196.34,350.55L198.09,353.61L194.59,353.61Z" fill="#19e6f0"/>
<path d="M203.76,358.75L205.51,361.81L202.01,361.81Z" fill="#19e6f0"/>
<path d="M211.18,365.56L212.93,368.62L209.43,368.62Z" fill="#19e6f0"/>
<path d="M218.60,367.86L220.35,370.93L216.85,370.93Z" fill="#19e6f0"/>
<path d="M226.02,370.33L227.77,373.39L224.27,373.39Z" fill="#19e6f0"/>
<path d="M233.44,372.45L235.19,375.51L231.69,375.51Z" fill="#19e6f0"/>
<path d="M240.86,370.94L242.61,374.00L239.11,374.00Z" fill="#19e6f0"/>
<path d="M70.20,283.25L71.95,280.19L68.45,280.19Z" fill="#18e060"/>
<path d="M77.62,283.25L79.37,280.19L75.87,280.19Z" fill="#18e060"/>
<path d="M85.04,284.45L86.79,281.39L83.29,281.39Z" fill="#18e060"/>
<path d="M92.46,284.45L94.21,281.39L90.71,281.39Z" fill="#18e060"/>
<path d="M99.88,306.85L101.63,303.79L98.13,303.79Z" fill="#18e060"/>
<path d="M107.30,289.64L109.05,286.58L105.55,286.58Z" fill="#18e060"/>
<path d="M114.72,289.05L116.47,285.99L112.97,285.99Z" fill="#18e060"/>
<path d="M122.14,289.05L123.89,285.99L120.39,285.99Z" fill="#18e060"/>
<path d="M129.56,288.65L131.31,285.59L127.81,285.59Z" fill="#18e060"/>
<path d="M136.98,293.33L138.73,290.27L135.23,290.27Z" fill="#18e060"/>
<path d="M144.40,290.85L146.15,287.79L142.65,287.79Z" fill="#18e060"/>
<path d="M151.82,297.33L153.57,294.27L150.07,294.27Z" fill="#18e060"/>
<path d="M159.24,303.60L160.99,300.54L157.49,300.54Z" fill="#18e060"/>
<path d="M166.66,314.35L168.41,311.29L164.91,311.29Z" fill="#18e060"/>
<path d="M174.08,322.49L175.83,319.43L172.33,319.43Z" fill="#18e060"/>
<path d="M181.50,329.15L183.25,326.09L179.75,326.09Z" fill="#18e060"/>
<path d="M188.92,348.55L190.67,345.49L187.17,345.49Z" fill="#18e060"/>
<path d="M196.34,355.60L198.09,352.54L194.59,352.54Z" fill="#18e060"/>
<path d="M203.76,364.45L205.51,361.39L202.01,361.39Z" fill="#18e060"/>
<path d="M211.18,370.03L212.93,366.97L209.43,366.97Z" fill="#18e060"/>
<path d="M218.60,374.13L220.35,371.06L216.85,371.06Z" fill="#18e060"/>
<path d="M226.02,373.41L227.77,370.35L224.27,370.35Z" fill="#18e060"/>
<path d="M233.44,375.23L235.19,372.17L231.69,372.17Z" fill="#18e060"/>
<path d="M240.86,379.00L242.61,375.94L239.11,375.94Z" fill="#18e060"/>
<path d="M70.20,285.50L72.00,287.30L70.20,289.10L68.40,287.30Z" fill="#f020e0"/>
<path d="M77.62,290.60L79.42,292.40L77.62,294.20L75.82,292.40Z" fill="#f020e0"/>
<path d="M85.04,291.00L86.84,292.80L85.04,294.60L83.24,292.80Z" fill="#f020e0"/>
<path d="M92.46,294.30L94.26,296.10L92.46,297.90L90.66,296.10Z" fill="#f020e0"/>
<path d="M99.88,294.30L101.68,296.10L99.88,297.90L98.08,296.10Z" fill="#f020e0"/>
<path d="M107.30,293.99L109.10,295.79L107.30,297.59L105.50,295.79Z" fill="#f020e0"/>
<path d="M114.72,291.41L116.52,293.21L114.72,295.01L112.92,293.21Z" fill="#f020e0"/>
<path d="M122.14,291.80L123.94,293.60L122.14,295.40L120.34,293.60Z" fill="#f020e0"/>
<path d="M129.56,294.02L131.36,295.82L129.56,297.62L127.76,295.82Z" fill="#f020e0"/>
<path d="M136.98,295.02L138.78,296.82L136.98,298.62L135.18,296.82Z" fill="#f020e0"/>
<path d="M144.40,298.95L146.20,300.75L144.40,302.55L142.60,300.75Z" fill="#f020e0"/>
<path d="M151.82,300.63L153.62,302.43L151.82,304.23L150.02,302.43Z" fill="#f020e0"/>
<path d="M159.24,306.87L161.04,308.67L159.24,310.47L157.44,308.67Z" fill="#f020e0"/>
<path d="M166.66,317.40L168.46,319.20L166.66,321.00L164.86,319.20Z" fill="#f020e0"/>
<path d="M174.08,325.00L175.88,326.80L174.08,328.60L172.28,326.80Z" fill="#f020e0"/>
<path d="M181.50,339.93L183.30,341.73L181.50,343.53L179.70,341.73Z" fill="#f020e0"/>
<path d="M188.92,350.67L190.72,352.47L188.92,354.27L187.12,352.47Z" fill="#f020e0"/>
<path d="M196.34,361.52L198.14,363.32L196.34,365.12L194.54,363.32Z" fill="#f020e0"/>
<path d="M203.76,367.54L205.56,369.34L203.76,371.14L201.96,369.34Z" fill="#f020e0"/>
<path d="M211.18,370.84L212.98,372.64L211.18,374.44L209.38,372.64Z" fill="#f020e0"/>
<path d="M218.60,370.71L220.40,372.51L218.60,374.31L216.80,372.51Z" fill="#f020e0"/>
<path d="M226.02,375.38L227.82,377.18L226.02,378.98L224.22,377.18Z" fill="#f020e0"/>
<path d="M233.44,374.52L235.24,376.32L233.44,378.12L231.64,376.32Z" fill="#f020e0"/>
<path d="M240.86,375.10L242.66,376.90L240.86,378.70L239.06,376.90Z" fill="#f020e0"/>
<circle cx="70.20" cy="298.30" r="1.65" fill="#f00" stroke="#300" stroke-width="0.80"/>
<circle cx="77.62" cy="301.40" r="1.65" fill="#f00" stroke="#300" stroke-width="0.80"/>
<circle cx="85.04" cy="303.20" r="1.65" fill="#f00" stroke="#300" stroke-width="0.80"/>
<circle cx="92.46" cy="300.20" r="1.65" fill="#f00" stroke="#300" stroke-width="0.80"/>
<circle cx="99.88" cy="300.40" r="1.65" fill="#f00" stroke="#300" stroke-width="0.80"/>
<circle cx="107.30" cy="304.00" r="1.65" fill="#f00" stroke="#300" stroke-width="0.80"/>
<circle cx="114.72" cy="299.10" r="1.65" fill="#f00" stroke="#300" stroke-width="0.80"/>
<circle cx="122.14" cy="305.10" r="1.65" fill="#f00" stroke="#300" stroke-width="0.80"/>
<circle cx="129.56" cy="305.50" r="1.65" fill="#f00" stroke="#300" stroke-width="0.80"/>
<circle cx="136.98" cy="306.40" r="1.65" fill="#f00" stroke="#300" stroke-width="0.80"/>
<circle cx="144.40" cy="312.70" r="1.65" fill="#f00" stroke="#300" stroke-width="0.80"/>
<circle cx="151.82" cy="314.00" r="1.65" fill="#f00" stroke="#300" stroke-width="0.80"/>
<circle cx="159.24" cy="314.50" r="1.65" fill="#f00" stroke="#300" stroke-width="0.80"/>
<circle cx="166.66" cy="322.30" r="1.65" fill="#f00" stroke="#300" stroke-width="0.80"/>
<circle cx="174.08" cy="334.59" r="1.65" fill="#f00" stroke="#300" stroke-width="0.80"/>
<circle cx="181.50" cy="348.89" r="1.65" fill="#f00" stroke="#300" stroke-width="0.80"/>
<circle cx="188.92" cy="356.06" r="1.65" fill="#f00" stroke="#300" stroke-width="0.80"/>
<circle cx="196.34" cy="365.94" r="1.65" fill="#f00" stroke="#300" stroke-width="0.80"/>
<circle cx="203.76" cy="369.20" r="1.65" fill="#f00" stroke="#300" stroke-width="0.80"/>
<circle cx="211.18" cy="374.97" r="1.65" fill="#f00" stroke="#300" stroke-width="0.80"/>
<circle cx="218.60" cy="376.63" r="1.65" fill="#f00" stroke="#300" stroke-width="0.80"/>
<circle cx="226.02" cy="376.19" r="1.65" fill="#f00" stroke="#300" stroke-width="0.80"/>
<circle cx="233.44" cy="377.02" r="1.65" fill="#f00" stroke="#300" stroke-width="0.80"/>
<circle cx="240.86" cy="378.73" r="1.65" fill="#f00" stroke="#300" stroke-width="0.80"/>
<rect x="68.60" y="304.90" width="3.20" height="3.20" fill="#ff2" stroke="#222" stroke-width="0.80"/>
<rect x="76.02" y="303.10" width="3.20" height="3.20" fill="#ff2" stroke="#222" stroke-width="0.80"/>
<rect x="83.44" y="306.10" width="3.20" height="3.20" fill="#ff2" stroke="#222" stroke-width="0.80"/>
<rect x="90.86" y="305.40" width="3.20" height="3.20" fill="#ff2" stroke="#222" stroke-width="0.80"/>
<rect x="98.28" y="318.50" width="3.20" height="3.20" fill="#ff2" stroke="#222" stroke-width="0.80"/>
<rect x="105.70" y="320.20" width="3.20" height="3.20" fill="#ff2" stroke="#222" stroke-width="0.80"/>
<rect x="113.12" y="323.90" width="3.20" height="3.20" fill="#ff2" stroke="#222" stroke-width="0.80"/>
<rect x="120.54" y="327.70" width="3.20" height="3.20" fill="#ff2" stroke="#222" stroke-width="0.80"/>
<rect x="127.96" y="311.10" width="3.20" height="3.20" fill="#ff2" stroke="#222" stroke-width="0.80"/>
<rect x="135.38" y="312.00" width="3.20" height="3.20" fill="#ff2" stroke="#222" stroke-width="0.80"/>
<rect x="142.80" y="299.30" width="3.20" height="3.20" fill="#ff2" stroke="#222" stroke-width="0.80"/>
<rect x="150.22" y="295.80" width="3.20" height="3.20" fill="#ff2" stroke="#222" stroke-width="0.80"/>
<rect x="157.64" y="320.71" width="3.20" height="3.20" fill="#ff2" stroke="#222" stroke-width="0.80"/>
<rect x="165.06" y="328.10" width="3.20" height="3.20" fill="#ff2" stroke="#222" stroke-width="0.80"/>
<rect x="172.48" y="336.70" width="3.20" height="3.20" fill="#ff2" stroke="#222" stroke-width="0.80"/>
<rect x="179.90" y="346.10" width="3.20" height="3.20" fill="#ff2" stroke="#222" stroke-width="0.80"/>
<rect x="187.32" y="357.48" width="3.20" height="3.20" fill="#ff2" stroke="#222" stroke-width="0.80"/>
<rect x="194.74" y="359.80" width="3.20" height="3.20" fill="#ff2" stroke="#222" stroke-width="0.80"/>
<rect x="202.16" y="370.37" width="3.20" height="3.20" fill="#ff2" stroke="#222" stroke-width="0.80"/>
<rect x="209.58" y="374.90" width="3.20" height="3.20" fill="#ff2" stroke="#222" stroke-width="0.80"/>
<rect x="217.00" y="377.90" width="3.20" height="3.20" fill="#ff2" stroke="#222" stroke-width="0.80"/>
<rect x="224.42" y="375.71" width="3.20" height="3.20" fill="#ff2" stroke="#222" stroke-width="0.80"/>
<rect x="231.84" y="376.98" width="3.20" height="3.20" fill="#ff2" stroke="#222" stroke-width="0.80"/>
<rect x="239.26" y="377.90" width="3.20" height="3.20" fill="#ff2" stroke="#222" stroke-width="0.80"/>
<line x1="225.40" y1="250.90" x2="235.80" y2="250.90" stroke="#000" stroke-width="1.5" />
<circle cx="230.60" cy="250.90" r="1.52" fill="#000"/>
<text x="239.20" y="255.80" font-size="15.3" text-anchor="start" fill="#000" >6f</text>
<line x1="225.40" y1="264.75" x2="235.80" y2="264.75" stroke="#1a2fe0" stroke-width="1.5" />
<rect x="229.18" y="263.32" width="2.85" height="2.85" fill="#1a2fe0"/>
<text x="239.20" y="269.65" font-size="15.3" text-anchor="start" fill="#000" >9a</text>
<line x1="225.40" y1="278.60" x2="235.80" y2="278.60" stroke="#19e6f0" stroke-width="1.5" />
<path d="M230.60,276.94L232.26,279.85L228.94,279.85Z" fill="#19e6f0"/>
<text x="239.20" y="283.50" font-size="15.3" text-anchor="start" fill="#000" >9b</text>
<line x1="225.40" y1="292.45" x2="235.80" y2="292.45" stroke="#18e060" stroke-width="1.5" />
<path d="M230.60,294.11L232.26,291.20L228.94,291.20Z" fill="#18e060"/>
<text x="239.20" y="297.35" font-size="15.3" text-anchor="start" fill="#000" >9c</text>
<line x1="225.40" y1="306.30" x2="235.80" y2="306.30" stroke="#f020e0" stroke-width="1.5" />
<path d="M230.60,304.59L232.31,306.30L230.60,308.01L228.89,306.30Z" fill="#f020e0"/>
<text x="239.20" y="311.20" font-size="15.3" text-anchor="start" fill="#000" >9d</text>
<line x1="225.40" y1="320.15" x2="235.80" y2="320.15" stroke="#e01010" stroke-width="1.5" />
<circle cx="230.60" cy="320.15" r="1.57" fill="#f00" stroke="#300" stroke-width="0.76"/>
<text x="239.20" y="325.05" font-size="15.3" text-anchor="start" fill="#000" >9e</text>
<line x1="225.40" y1="334.00" x2="235.80" y2="334.00" stroke="#e8e020" stroke-width="1.5" />
<rect x="229.08" y="332.48" width="3.04" height="3.04" fill="#ff2" stroke="#222" stroke-width="0.76"/>
<text x="239.20" y="338.90" font-size="15.3" text-anchor="start" fill="#000" >9f</text>
<line x1="339.80" y1="234.78" x2="339.80" y2="386.80" stroke="#9090e4" stroke-width="1.1" />
<line x1="339.30" y1="386.30" x2="519.35" y2="386.30" stroke="#9090e4" stroke-width="1.1" />
<text x="335.20" y="389.30" font-size="8.6" text-anchor="end" fill="#222" stroke="#222" stroke-width="0.2">2</text>
<line x1="339.80" y1="369.52" x2="343.00" y2="369.52" stroke="#9090e4" stroke-width="1.0" />
<text x="335.20" y="372.52" font-size="8.6" text-anchor="end" fill="#222" stroke="#222" stroke-width="0.2">3</text>
<line x1="339.80" y1="352.74" x2="343.00" y2="352.74" stroke="#9090e4" stroke-width="1.0" />
<text x="335.20" y="355.74" font-size="8.6" text-anchor="end" fill="#222" stroke="#222" stroke-width="0.2">4</text>
<line x1="339.80" y1="335.96" x2="343.00" y2="335.96" stroke="#9090e4" stroke-width="1.0" />
<text x="335.20" y="338.96" font-size="8.6" text-anchor="end" fill="#222" stroke="#222" stroke-width="0.2">5</text>
<line x1="339.80" y1="319.18" x2="343.00" y2="319.18" stroke="#9090e4" stroke-width="1.0" />
<text x="335.20" y="322.18" font-size="8.6" text-anchor="end" fill="#222" stroke="#222" stroke-width="0.2">6</text>
<line x1="339.80" y1="302.40" x2="343.00" y2="302.40" stroke="#9090e4" stroke-width="1.0" />
<text x="335.20" y="305.40" font-size="8.6" text-anchor="end" fill="#222" stroke="#222" stroke-width="0.2">7</text>
<line x1="339.80" y1="285.62" x2="343.00" y2="285.62" stroke="#9090e4" stroke-width="1.0" />
<text x="335.20" y="288.62" font-size="8.6" text-anchor="end" fill="#222" stroke="#222" stroke-width="0.2">8</text>
<line x1="339.80" y1="268.84" x2="343.00" y2="268.84" stroke="#9090e4" stroke-width="1.0" />
<text x="335.20" y="271.84" font-size="8.6" text-anchor="end" fill="#222" stroke="#222" stroke-width="0.2">9</text>
<line x1="339.80" y1="252.06" x2="343.00" y2="252.06" stroke="#9090e4" stroke-width="1.0" />
<text x="335.20" y="255.06" font-size="8.6" text-anchor="end" fill="#222" stroke="#222" stroke-width="0.2">10</text>
<line x1="339.80" y1="235.28" x2="343.00" y2="235.28" stroke="#9090e4" stroke-width="1.0" />
<text x="335.20" y="238.28" font-size="8.6" text-anchor="end" fill="#222" stroke="#222" stroke-width="0.2">11</text>
<text x="339.80" y="394.90" font-size="8.6" text-anchor="middle" fill="#222" stroke="#222" stroke-width="0.2">5</text>
<line x1="359.75" y1="386.30" x2="359.75" y2="383.10" stroke="#9090e4" stroke-width="1.0" />
<text x="359.75" y="394.90" font-size="8.6" text-anchor="middle" fill="#222" stroke="#222" stroke-width="0.2">6</text>
<line x1="379.70" y1="386.30" x2="379.70" y2="383.10" stroke="#9090e4" stroke-width="1.0" />
<text x="379.70" y="394.90" font-size="8.6" text-anchor="middle" fill="#222" stroke="#222" stroke-width="0.2">7</text>
<line x1="399.65" y1="386.30" x2="399.65" y2="383.10" stroke="#9090e4" stroke-width="1.0" />
<text x="399.65" y="394.90" font-size="8.6" text-anchor="middle" fill="#222" stroke="#222" stroke-width="0.2">8</text>
<line x1="419.60" y1="386.30" x2="419.60" y2="383.10" stroke="#9090e4" stroke-width="1.0" />
<text x="419.60" y="394.90" font-size="8.6" text-anchor="middle" fill="#222" stroke="#222" stroke-width="0.2">9</text>
<line x1="439.55" y1="386.30" x2="439.55" y2="383.10" stroke="#9090e4" stroke-width="1.0" />
<text x="439.55" y="394.90" font-size="8.6" text-anchor="middle" fill="#222" stroke="#222" stroke-width="0.2">10</text>
<line x1="459.50" y1="386.30" x2="459.50" y2="383.10" stroke="#9090e4" stroke-width="1.0" />
<text x="459.50" y="394.90" font-size="8.6" text-anchor="middle" fill="#222" stroke="#222" stroke-width="0.2">11</text>
<line x1="479.45" y1="386.30" x2="479.45" y2="383.10" stroke="#9090e4" stroke-width="1.0" />
<text x="479.45" y="394.90" font-size="8.6" text-anchor="middle" fill="#222" stroke="#222" stroke-width="0.2">12</text>
<line x1="499.40" y1="386.30" x2="499.40" y2="383.10" stroke="#9090e4" stroke-width="1.0" />
<text x="499.40" y="394.90" font-size="8.6" text-anchor="middle" fill="#222" stroke="#222" stroke-width="0.2">13</text>
<line x1="519.35" y1="386.30" x2="519.35" y2="383.10" stroke="#9090e4" stroke-width="1.0" />
<text x="519.35" y="394.90" font-size="8.6" text-anchor="middle" fill="#222" stroke="#222" stroke-width="0.2">14</text>
<text x="290.00" y="232.50" font-size="20.5" text-anchor="start" fill="#000" >d)</text>
<text transform="translate(319.8,309.9) rotate(-90) scale(1.075,1)" font-size="13.3" text-anchor="middle" fill="#111">% Nitrogen</text>
<text x="429.30" y="411.60" font-size="14.0" text-anchor="middle" fill="#111" >Dendrimer Diameter (nm)</text>
<line x1="359.75" y1="334.51" x2="499.40" y2="249.88" stroke="#000" stroke-width="2.2" />
<line x1="359.75" y1="358.13" x2="499.40" y2="291.87" stroke="#0000e0" stroke-width="2.2" />
<path d="M359.75,333.36L362.15,337.56L357.35,337.56Z" fill="#000"/>
<path d="M395.66,309.03L398.06,313.23L393.26,313.23Z" fill="#000"/>
<path d="M499.40,247.78L501.80,251.98L497.00,251.98Z" fill="#000"/>
<rect x="357.70" y="357.30" width="4.4" height="4.4" fill="#1a78ff"/>
<rect x="393.40" y="337.20" width="4.4" height="4.4" fill="#1a78ff"/>
<rect x="497.20" y="289.90" width="4.4" height="4.4" fill="#1a78ff"/>
<line x1="348.00" y1="234.10" x2="366.20" y2="234.10" stroke="#1010e0" stroke-width="2" />
<line x1="349.90" y1="246.30" x2="368.40" y2="246.30" stroke="#000" stroke-width="2" />
<text x="366.50" y="236.10" font-size="7.3" text-anchor="start" fill="#3c3cd8" stroke="#3c3cd8" stroke-width="0.25">y = 0.29425 + 0.56408x</text>
<text x="447.70" y="236.10" font-size="7.3" text-anchor="start" fill="#3c3cd8" stroke="#3c3cd8" stroke-width="0.25">R= 0.99892</text>
<text x="368.20" y="248.40" font-size="7.3" text-anchor="start" fill="#333" >y = 0.76367 + 0.72048x</text>
<text x="449.60" y="248.40" font-size="7.3" text-anchor="start" fill="#333" >R= 0.9992</text>
<text x="477.10" y="339.40" font-size="12.85" text-anchor="start" fill="#111" stroke="#111" stroke-width="0.2">--- galNAc</text>
<text x="477.10" y="352.00" font-size="12.85" text-anchor="start" fill="#1818e8" stroke="#1818e8" stroke-width="0.2">--- galactose</text>
</svg></body></html>
